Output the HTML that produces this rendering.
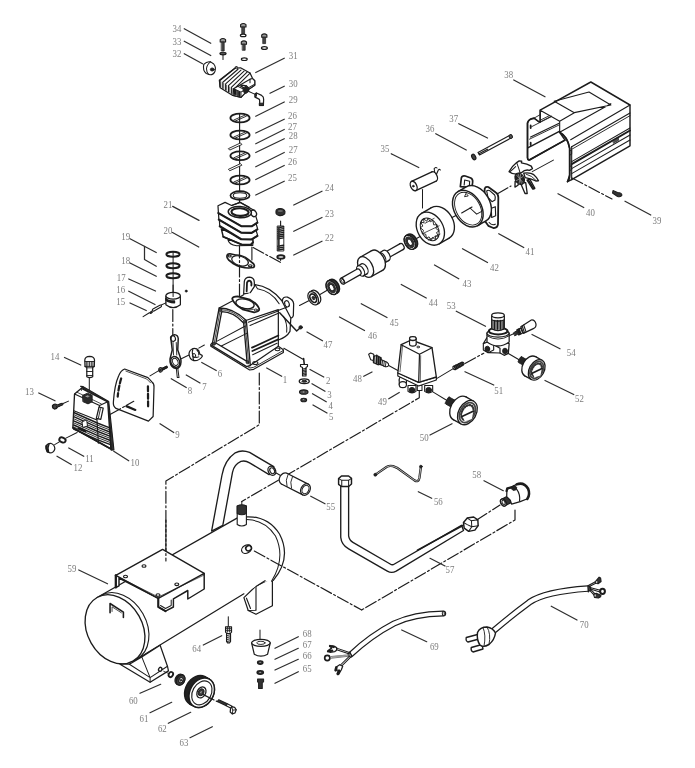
<!DOCTYPE html>
<html><head><meta charset="utf-8"><title>Parts diagram</title>
<style>
html,body{margin:0;padding:0;background:#fff;}
body{width:695px;height:768px;overflow:hidden;}
svg{display:block;filter:blur(0.35px);}
svg text{font-family:"Liberation Serif","DejaVu Serif",serif;font-size:10.4px;fill:#7c7c7c;}
</style></head><body>
<svg width="695" height="768" viewBox="0 0 695 768" stroke-linecap="round" stroke-linejoin="round">
<rect width="695" height="768" fill="#fff"/>
<line x1="239.60" y1="113.50" x2="239.60" y2="199.00" stroke="#1c1c1c" stroke-width="1.12" />
<path d="M240.60000000000002,27.0 L240.60000000000002,24.6 Q243.3,22.400000000000002 246.0,24.6 L246.0,27.0 Z" fill="#999" stroke="#1c1c1c" stroke-width="1.12" />
<rect x="242.0" y="27.0" width="2.6" height="7.499999999999998" fill="#444" stroke="#1c1c1c" stroke-width="0.7"/>
<ellipse cx="243.20" cy="35.40" rx="2.80" ry="1.30" fill="#fff" stroke="#1c1c1c" stroke-width="1.23"/>
<path d="M220.20000000000002,42.0 L220.20000000000002,39.6 Q222.9,37.4 225.6,39.6 L225.6,42.0 Z" fill="#999" stroke="#1c1c1c" stroke-width="1.12" />
<rect x="221.6" y="42.0" width="2.6" height="8.999999999999998" fill="#444" stroke="#1c1c1c" stroke-width="0.7"/>
<ellipse cx="223.00" cy="53.60" rx="3.10" ry="1.30" fill="#555" stroke="#1c1c1c" stroke-width="1.12"/>
<line x1="223.00" y1="55.00" x2="223.00" y2="59.50" stroke="#1c1c1c" stroke-width="1.01" />
<path d="M241.3,44.2 L241.3,42 Q243.9,39.8 246.5,42 L246.5,44.2 Z" fill="#999" stroke="#1c1c1c" stroke-width="1.12" />
<rect x="242.6" y="44.2" width="2.6" height="6.099999999999997" fill="#444" stroke="#1c1c1c" stroke-width="0.7"/>
<ellipse cx="244.30" cy="59.20" rx="2.90" ry="1.30" fill="none" stroke="#1c1c1c" stroke-width="1.23"/>
<path d="M261.7,37.2 L261.7,35 Q264.3,32.8 266.90000000000003,35 L266.90000000000003,37.2 Z" fill="#999" stroke="#1c1c1c" stroke-width="1.12" />
<rect x="263.0" y="37.2" width="2.6" height="6.400000000000001" fill="#444" stroke="#1c1c1c" stroke-width="0.7"/>
<ellipse cx="264.40" cy="48.00" rx="2.90" ry="1.40" fill="#fff" stroke="#1c1c1c" stroke-width="1.34"/>
<path d="M 203.75 64.38 Q 206.88 61.00 210.62 61.88 L 213.75 64.00 Q 216.25 66.88 215.00 71.25 Q 213.75 74.75 210.00 74.75 L 206.25 73.50 Q 202.50 70.62 203.75 64.38 Z" fill="#fff" stroke="#1c1c1c" stroke-width="1.12" />
<path d="M 210.62 61.88 Q 206.88 64.38 206.50 68.75 Q 206.50 71.88 208.50 74.38" fill="none" stroke="#1c1c1c" stroke-width="1.01" />
<ellipse cx="212.25" cy="69.50" rx="1.90" ry="1.50" fill="#222" stroke="#1c1c1c" stroke-width="0.90"/>
<path d="M 219.34 80.29 L 234.88 68.20 L 240.50 67.77 L 250.00 72.95 L 252.59 78.57 L 254.75 80.73 L 254.75 85.22 L 249.13 88.93 L 240.93 97.31 L 232.73 95.41 L 220.20 87.81 Z" fill="#fff" stroke="#1c1c1c" stroke-width="1.23" />
<path d="M 219.94 86.60 L 219.94 80.55 L 234.97 68.29" fill="none" stroke="#1c1c1c" stroke-width="1.12" />
<path d="M 222.79 88.28 L 222.79 82.24 L 237.99 69.24" fill="none" stroke="#1c1c1c" stroke-width="1.12" />
<path d="M 225.64 89.97 L 225.64 83.92 L 241.02 70.19" fill="none" stroke="#1c1c1c" stroke-width="1.12" />
<path d="M 228.49 91.65 L 228.49 85.60 L 244.04 71.14" fill="none" stroke="#1c1c1c" stroke-width="1.12" />
<path d="M 231.34 93.33 L 231.34 87.29 L 247.06 72.09" fill="none" stroke="#1c1c1c" stroke-width="1.12" />
<path d="M 234.19 95.02 L 234.19 88.97 L 250.08 73.04" fill="none" stroke="#1c1c1c" stroke-width="1.12" />
<path d="M 220.89 87.03 L 220.89 81.85" fill="none" stroke="#1c1c1c" stroke-width="0.56" />
<path d="M 223.74 88.71 L 223.74 83.53" fill="none" stroke="#1c1c1c" stroke-width="0.56" />
<path d="M 226.59 90.40 L 226.59 85.22" fill="none" stroke="#1c1c1c" stroke-width="0.56" />
<path d="M 229.44 92.08 L 229.44 86.90" fill="none" stroke="#1c1c1c" stroke-width="0.56" />
<path d="M 232.29 93.77 L 232.29 88.58" fill="none" stroke="#1c1c1c" stroke-width="0.56" />
<path d="M 235.32 68.46 L 235.32 66.91 L 237.04 66.56 L 237.04 68.64" fill="#fff" stroke="#1c1c1c" stroke-width="1.01" />
<path d="M 233.59 88.67 L 250.00 79.17 L 252.59 78.57 L 254.75 80.73 L 254.75 85.22 L 249.13 88.93 L 240.93 97.31 L 233.16 95.41 Z" fill="#fff" stroke="#1c1c1c" stroke-width="1.12" />
<path d="M 233.59 88.67 L 240.93 92.12 L 240.93 97.31 M 240.93 92.12 L 254.75 84.18 M 237.91 86.34 L 244.82 89.79 M 250.00 79.17 L 250.00 82.63" fill="none" stroke="#1c1c1c" stroke-width="1.01" />
<path d="M 234.63 89.79 L 234.63 94.37 M 236.01 90.40 L 236.01 94.89 M 237.91 91.26 L 237.91 95.58 M 239.46 91.95 L 239.46 96.27" fill="none" stroke="#1c1c1c" stroke-width="1.46" />
<path d="M 243.52 87.63 L 246.54 85.91 L 248.70 87.46 L 248.70 91.52 L 245.85 93.51 L 243.52 91.95 Z" fill="#222" stroke="#1c1c1c" stroke-width="0.90" />
<path d="M 240.50 85.91 L 243.52 87.63 M 241.79 85.04 L 246.54 85.91" fill="none" stroke="#1c1c1c" stroke-width="1.34" />
<path d="M 248.96 91.52 L 255.18 94.37" fill="none" stroke="#1c1c1c" stroke-width="1.01" />
<path d="M 255.18 93.85 L 256.47 92.99 L 261.65 95.41 Q 263.81 96.70 263.64 99.29 L 263.38 105.34 L 259.67 105.34 L 259.67 100.59 Q 259.67 99.29 258.63 98.86 L 255.01 97.13 Z" fill="#fff" stroke="#1c1c1c" stroke-width="1.23" />
<path d="M 255.01 94.11 L 255.01 97.13 L 256.47 96.27 L 256.47 93.25 Z" fill="#333" stroke="#1c1c1c" stroke-width="0.90" />
<path d="M 259.67 103.18 L 263.38 103.18 L 263.38 105.60 L 259.67 105.60 Z" fill="#333" stroke="#1c1c1c" stroke-width="0.90" />
<ellipse cx="240.00" cy="118.00" rx="9.60" ry="4.40" fill="#fff" stroke="#1c1c1c" stroke-width="1.79"/>
<path d="M233.8,120.0 L244.8,115.2 M235.4,121.0 L246.4,116.2" fill="none" stroke="#1c1c1c" stroke-width="0.90" />
<line x1="239.60" y1="113.50" x2="239.60" y2="122.50" stroke="#1c1c1c" stroke-width="1.12" />
<ellipse cx="240.00" cy="135.00" rx="9.60" ry="4.40" fill="#fff" stroke="#1c1c1c" stroke-width="1.79"/>
<path d="M233.8,137.0 L244.8,132.2 M235.4,138.0 L246.4,133.2" fill="none" stroke="#1c1c1c" stroke-width="0.90" />
<line x1="239.60" y1="130.50" x2="239.60" y2="139.50" stroke="#1c1c1c" stroke-width="1.12" />
<path d="M228.70000000000002,148.5 L240.5,142.9 L241.9,144.5 L230.10000000000002,149.9 Z" fill="#fff" stroke="#1c1c1c" stroke-width="0.90" />
<ellipse cx="240.00" cy="155.80" rx="9.60" ry="4.40" fill="#fff" stroke="#1c1c1c" stroke-width="1.79"/>
<path d="M233.8,157.8 L244.8,153.0 M235.4,158.8 L246.4,154.0" fill="none" stroke="#1c1c1c" stroke-width="0.90" />
<line x1="239.60" y1="151.30" x2="239.60" y2="160.30" stroke="#1c1c1c" stroke-width="1.12" />
<path d="M228.70000000000002,169.2 L240.5,163.6 L241.9,165.2 L230.10000000000002,170.6 Z" fill="#fff" stroke="#1c1c1c" stroke-width="0.90" />
<ellipse cx="240.00" cy="180.00" rx="9.60" ry="4.40" fill="#fff" stroke="#1c1c1c" stroke-width="1.79"/>
<path d="M233.8,182.0 L244.8,177.2 M235.4,183.0 L246.4,178.2" fill="none" stroke="#1c1c1c" stroke-width="0.90" />
<line x1="239.60" y1="175.50" x2="239.60" y2="184.50" stroke="#1c1c1c" stroke-width="1.12" />
<ellipse cx="240.00" cy="195.50" rx="9.60" ry="4.30" fill="#fff" stroke="#1c1c1c" stroke-width="1.68"/>
<ellipse cx="240.00" cy="195.50" rx="6.80" ry="2.70" fill="none" stroke="#1c1c1c" stroke-width="1.01"/>
<path d="M239.50,199.00 L239.50,212.00" fill="none" stroke="#1c1c1c" stroke-width="1.18" stroke-dasharray="12 2.5 2 2.5"/>
<path d="M 228.08 240.13 Q 228.83 244.62 236.68 245.74 L 252.76 245.36 L 252.99 240.88 Z" fill="#fff" stroke="#1c1c1c" stroke-width="1.12" />
<path d="M 221.35 228.91 L 223.22 236.76 L 241.92 244.62 L 250.89 244.62 L 252.99 242.37 L 252.76 239.01 L 241.92 237.88 Z" fill="#fff" stroke="#1c1c1c" stroke-width="1.46" />
<path d="M 223.22 236.76 L 241.92 244.62 L 250.89 244.62 L 252.99 242.37" fill="none" stroke="#1c1c1c" stroke-width="1.79" />
<path d="M 219.33 218.89 L 226.44 215.52 L 231.60 218.66 L 240.05 215.52 L 253.88 223.37 L 257.40 234.59 L 257.40 235.87 L 251.64 239.46 L 241.17 239.23 L 219.78 226.22 Z" fill="#fff" stroke="#1c1c1c" stroke-width="1.23" />
<path d="M 219.78 226.22 L 241.17 239.23 L 251.64 239.46 L 257.40 235.87" fill="none" stroke="#1c1c1c" stroke-width="2.13" />
<path d="M 218.43 212.31 L 225.54 208.94 L 231.60 212.08 L 240.05 208.94 L 253.88 216.79 L 257.40 228.01 L 257.40 229.28 L 251.64 232.87 L 241.17 232.65 L 218.88 219.64 Z" fill="#fff" stroke="#1c1c1c" stroke-width="1.23" />
<path d="M 218.88 219.64 L 241.17 232.65 L 251.64 232.87 L 257.40 229.28" fill="none" stroke="#1c1c1c" stroke-width="2.13" />
<path d="M 217.98 205.72 L 225.09 202.36 L 231.60 205.50 L 240.05 202.36 L 253.88 210.21 L 257.40 221.43 L 257.40 222.70 L 251.64 226.29 L 241.17 226.07 L 218.43 213.05 Z" fill="#fff" stroke="#1c1c1c" stroke-width="1.23" />
<path d="M 218.43 213.05 L 241.17 226.07 L 251.64 226.29 L 257.40 222.70" fill="none" stroke="#1c1c1c" stroke-width="2.13" />
<ellipse cx="253.59" cy="213.35" rx="2.70" ry="3.40" fill="#fff" stroke="#1c1c1c" stroke-width="1.34" transform="rotate(-30 253.59 213.35)"/>
<ellipse cx="239.82" cy="212.08" rx="11.60" ry="5.60" fill="#fff" stroke="#1c1c1c" stroke-width="1.46" transform="rotate(3 239.82 212.08)"/>
<ellipse cx="240.05" cy="212.08" rx="8.60" ry="3.80" fill="#fff" stroke="#1c1c1c" stroke-width="2.13" transform="rotate(3 240.05 212.08)"/>
<path d="M 231.60 205.50 L 240.05 202.36 L 249.40 207.22" fill="none" stroke="#1c1c1c" stroke-width="1.12" />
<line x1="251.90" y1="247.00" x2="251.90" y2="260.00" stroke="#1c1c1c" stroke-width="1.12" />
<path d="M 226.88 256.00 Q 227.25 253.50 230.00 253.75 L 235.62 255.00 Q 242.50 254.75 248.12 259.38 L 253.50 263.75 Q 255.25 266.25 253.50 267.50 L 248.75 268.00 Q 241.25 268.12 233.50 263.75 L 228.75 260.00 Q 226.62 258.12 226.88 256.00 Z" fill="#fff" stroke="#1c1c1c" stroke-width="1.68" />
<ellipse cx="240.00" cy="260.88" rx="8.60" ry="4.60" fill="#fff" stroke="#1c1c1c" stroke-width="1.23" transform="rotate(18 240.00 260.88)"/>
<ellipse cx="250.25" cy="265.75" rx="1.90" ry="1.00" fill="none" stroke="#1c1c1c" stroke-width="1.01"/>
<ellipse cx="229.62" cy="256.00" rx="1.70" ry="1.00" fill="none" stroke="#1c1c1c" stroke-width="1.01"/>
<path d="M239.50,246.00 L239.50,300.00" fill="none" stroke="#1c1c1c" stroke-width="1.18" stroke-dasharray="12 2.5 2 2.5"/>
<path d="M 276.00 211.00 Q 276.25 208.75 280.00 208.50 Q 284.38 208.75 285.00 211.50 L 284.75 213.75 Q 282.50 216.00 279.75 215.62 Q 276.50 215.00 276.00 213.12 Z" fill="#333" stroke="#1c1c1c" stroke-width="1.12" />
<ellipse cx="280.50" cy="211.00" rx="3.20" ry="1.60" fill="#666" stroke="#1c1c1c" stroke-width="0.67"/>
<line x1="280.60" y1="221.00" x2="280.60" y2="226.00" stroke="#1c1c1c" stroke-width="1.12" />
<rect x="277.6" y="226" width="6.2" height="25" fill="#fff" stroke="#1c1c1c" stroke-width="0.9"/>
<line x1="277.90" y1="227.80" x2="283.50" y2="226.80" stroke="#1c1c1c" stroke-width="1.40" />
<line x1="277.90" y1="229.65" x2="283.50" y2="228.65" stroke="#1c1c1c" stroke-width="1.40" />
<line x1="277.90" y1="231.50" x2="283.50" y2="230.50" stroke="#1c1c1c" stroke-width="1.40" />
<line x1="277.90" y1="233.35" x2="283.50" y2="232.35" stroke="#1c1c1c" stroke-width="1.40" />
<line x1="277.90" y1="235.20" x2="283.50" y2="234.20" stroke="#1c1c1c" stroke-width="1.40" />
<line x1="277.90" y1="237.05" x2="283.50" y2="236.05" stroke="#1c1c1c" stroke-width="1.40" />
<line x1="277.90" y1="238.90" x2="283.50" y2="237.90" stroke="#1c1c1c" stroke-width="1.40" />
<line x1="277.90" y1="246.30" x2="283.50" y2="245.30" stroke="#1c1c1c" stroke-width="1.40" />
<line x1="277.90" y1="248.15" x2="283.50" y2="247.15" stroke="#1c1c1c" stroke-width="1.40" />
<line x1="277.90" y1="250.00" x2="283.50" y2="249.00" stroke="#1c1c1c" stroke-width="1.40" />
<rect x="277.9" y="226.5" width="1.8" height="24" fill="#333"/>
<ellipse cx="280.90" cy="256.90" rx="3.60" ry="1.70" fill="#fff" stroke="#1c1c1c" stroke-width="1.90"/>
<path d="M253.10,247.50 L280.60,262.50 L280.60,258.90" fill="none" stroke="#1c1c1c" stroke-width="1.18" stroke-dasharray="12 2.5 2 2.5"/>
<ellipse cx="173.00" cy="254.30" rx="6.60" ry="2.50" fill="#fff" stroke="#1c1c1c" stroke-width="2.02"/>
<ellipse cx="173.00" cy="265.70" rx="6.60" ry="2.50" fill="#fff" stroke="#1c1c1c" stroke-width="2.02"/>
<ellipse cx="173.00" cy="275.80" rx="6.60" ry="2.50" fill="#fff" stroke="#1c1c1c" stroke-width="2.02"/>
<line x1="173.10" y1="252.00" x2="173.10" y2="294.00" stroke="#1c1c1c" stroke-width="1.01" />
<ellipse cx="186.20" cy="291.10" rx="1.10" ry="1.10" fill="#111" stroke="#1c1c1c" stroke-width="0.56"/>
<path d="M 165.88 296.00 L 165.88 304.75 Q 173.12 310.62 180.38 304.75 L 180.38 296.00 Z" fill="#fff" stroke="#1c1c1c" stroke-width="1.23" />
<ellipse cx="173.12" cy="295.75" rx="7.25" ry="3.40" fill="#fff" stroke="#1c1c1c" stroke-width="1.23"/>
<path d="M 166.00 298.75 Q 168.12 301.25 174.38 301.25 M 166.00 300.00 Q 168.12 302.50 174.38 302.50" fill="none" stroke="#1c1c1c" stroke-width="1.79" />
<line x1="173.10" y1="285.00" x2="173.10" y2="296.50" stroke="#1c1c1c" stroke-width="1.01" />
<path d="M 161.25 305.00 L 165.88 302.88" fill="none" stroke="#1c1c1c" stroke-width="1.01" />
<path d="M 153.50 310.00 L 160.38 306.12" fill="none" stroke="#1c1c1c" stroke-width="3.25" />
<path d="M 153.50 310.00 L 160.38 306.12" fill="none" stroke="#fff" stroke-width="1.12" />
<path d="M 143.12 316.62 L 149.38 312.75" fill="none" stroke="#1c1c1c" stroke-width="1.12" />
<path d="M 149.75 312.75 L 151.50 311.00 L 152.50 312.00 L 150.75 313.50 Z" fill="#333" stroke="#1c1c1c" stroke-width="1.01" />
<path d="M172.80,309.50 L172.80,335.00" fill="none" stroke="#1c1c1c" stroke-width="1.18" stroke-dasharray="12 2.5 2 2.5"/>
<path d="M 177.50 366.25 L 179.00 377.50 L 177.25 377.50 L 176.25 367.50 Z" fill="#fff" stroke="#1c1c1c" stroke-width="1.01" />
<path d="M 170.88 338.75 Q 171.25 335.00 174.50 334.62 Q 177.88 335.00 178.25 338.50 L 177.75 350.00 L 180.25 357.25 Q 182.00 362.50 179.75 366.50 Q 177.50 369.50 173.75 367.75 Q 169.50 365.25 170.00 359.00 L 172.25 350.00 Z" fill="#fff" stroke="#1c1c1c" stroke-width="1.46" />
<ellipse cx="173.00" cy="338.50" rx="2.40" ry="2.90" fill="none" stroke="#1c1c1c" stroke-width="1.12" transform="rotate(-20 173.00 338.50)"/>
<path d="M 173.00 342.50 L 173.50 355.00 M 176.25 342.50 L 176.75 355.00" fill="none" stroke="#1c1c1c" stroke-width="0.90" />
<ellipse cx="175.25" cy="361.88" rx="4.30" ry="5.60" fill="#fff" stroke="#1c1c1c" stroke-width="1.46" transform="rotate(-25 175.25 361.88)"/>
<ellipse cx="175.25" cy="361.88" rx="2.60" ry="3.70" fill="none" stroke="#1c1c1c" stroke-width="0.90" transform="rotate(-25 175.25 361.88)"/>
<path d="M 181.25 358.75 L 189.00 355.00 M 198.75 348.12 L 204.38 345.00" fill="none" stroke="#1c1c1c" stroke-width="1.01" />
<path d="M 189.00 353.75 Q 189.38 350.00 193.12 348.50 Q 196.88 348.12 198.75 350.62 L 200.00 354.38 Q 202.50 355.00 202.25 356.50 Q 198.75 361.25 193.75 360.62 Q 189.38 359.38 189.00 353.75 Z" fill="#fff" stroke="#1c1c1c" stroke-width="1.23" />
<path d="M 193.12 348.50 Q 191.25 352.50 193.12 356.25 Q 195.00 358.12 198.75 356.88 M 196.88 350.00 Q 199.38 351.88 198.75 355.00 M 193.12 356.25 Q 192.50 358.75 194.00 360.50" fill="none" stroke="#1c1c1c" stroke-width="1.01" />
<ellipse cx="194.00" cy="355.62" rx="1.60" ry="2.20" fill="none" stroke="#1c1c1c" stroke-width="0.90"/>
<path d="M 158.75 369.00 Q 159.38 367.50 161.25 367.75 L 162.00 368.50 L 166.75 366.25 L 167.25 367.50 L 162.50 370.00 Q 162.25 371.88 160.62 372.25 Q 158.75 371.88 158.75 369.00 Z" fill="#fff" stroke="#1c1c1c" stroke-width="1.23" />
<path d="M 162.00 368.50 L 166.75 366.25 L 167.25 367.50 L 162.50 370.00 Z" fill="#333" stroke="#1c1c1c" stroke-width="1.01" />
<ellipse cx="160.38" cy="370.00" rx="1.00" ry="1.30" fill="#333" stroke="#1c1c1c" stroke-width="0.67"/>
<path d="M 150.00 375.88 L 158.75 370.62" fill="none" stroke="#1c1c1c" stroke-width="1.01" />
<path d="M 282.50 299.67 Q 283.33 296.33 287.50 297.17 Q 293.33 299.67 293.67 303.83 L 293.33 315.50 Q 292.50 318.83 289.17 317.67 L 285.83 315.50 L 282.50 308.00 Z" fill="#fff" stroke="#1c1c1c" stroke-width="1.23" />
<ellipse cx="287.00" cy="303.83" rx="2.20" ry="3.20" fill="none" stroke="#1c1c1c" stroke-width="1.12" transform="rotate(-20 287.00 303.83)"/>
<path d="M 250.00 293.00 L 255.00 284.67 Q 270.00 286.33 281.67 300.50 L 290.83 318.00 L 290.00 331.33 Q 286.67 337.17 278.33 340.00 L 278.33 309.67 Z" fill="#fff" stroke="none" stroke-width="0.00" />
<path d="M 250.00 293.00 L 255.00 284.67 Q 270.00 286.33 281.67 300.50 L 290.83 318.00 L 290.00 331.33 Q 286.67 337.17 278.33 340.00" fill="none" stroke="#1c1c1c" stroke-width="1.23" />
<path d="M 257.50 288.83 Q 271.67 291.33 279.17 303.83 M 255.00 284.67 L 257.50 288.83 M 283.33 316.33 Q 287.50 323.00 286.67 332.17" fill="none" stroke="#1c1c1c" stroke-width="1.01" />
<path d="M 243.67 293.83 L 244.33 281.33 Q 245.00 277.17 249.67 277.17 Q 254.17 277.67 254.33 282.17 L 254.33 286.67 L 250.00 293.00 Z" fill="#fff" stroke="#1c1c1c" stroke-width="1.23" />
<path d="M 246.67 291.33 L 247.00 282.67 Q 248.33 280.00 250.33 281.00 Q 252.00 282.33 251.33 285.50" fill="none" stroke="#1c1c1c" stroke-width="1.79" />
<path d="M 219.17 308.00 L 234.17 300.00 L 250.00 293.00 L 278.33 309.67 L 278.33 346.33 L 250.00 365.50 L 245.83 320.50 Z" fill="#fff" stroke="none" stroke-width="0.00" />
<path d="M 219.17 308.00 L 234.17 300.00 L 243.67 294.67 M 245.83 320.50 L 278.33 309.67 L 278.33 346.33" fill="none" stroke="#1c1c1c" stroke-width="1.23" />
<path d="M 248.33 322.17 L 278.33 311.00 M 250.00 325.50 L 278.33 313.33" fill="none" stroke="#1c1c1c" stroke-width="1.01" />
<path d="M 252.00 347.67 L 278.33 335.50 M 252.33 351.00 L 278.33 339.33" fill="none" stroke="#1c1c1c" stroke-width="1.79" />
<path d="M 252.67 354.67 L 277.00 343.33" fill="none" stroke="#1c1c1c" stroke-width="1.01" />
<path d="M 210.83 344.33 L 212.50 342.67 L 250.00 365.50 L 278.33 346.33 L 283.33 349.67 L 283.33 352.50 L 253.67 369.33 L 249.67 370.00 L 210.83 346.33 Z" fill="#fff" stroke="#1c1c1c" stroke-width="1.23" />
<path d="M 210.83 345.17 L 250.00 368.00 L 253.67 367.33 L 283.33 350.50" fill="none" stroke="#1c1c1c" stroke-width="0.90" />
<ellipse cx="277.50" cy="349.33" rx="2.40" ry="1.40" fill="none" stroke="#1c1c1c" stroke-width="1.01"/>
<ellipse cx="255.33" cy="363.00" rx="2.60" ry="1.50" fill="none" stroke="#1c1c1c" stroke-width="1.01"/>
<path d="M 219.17 308.00 Q 233.33 308.00 246.33 320.50 L 250.33 365.50 L 246.67 366.67 L 212.00 345.50 Z" fill="#fff" stroke="#1c1c1c" stroke-width="1.34" />
<path d="M 221.67 311.67 Q 233.33 311.67 243.67 323.00 L 247.00 361.33 L 215.83 343.00 Z" fill="#fff" stroke="#1c1c1c" stroke-width="1.34" />
<path d="M 220.33 309.67 Q 233.33 309.67 245.00 321.67 L 248.67 363.83" fill="none" stroke="#1c1c1c" stroke-width="0.78" />
<path d="M 220.33 309.67 L 214.00 344.33" fill="none" stroke="#1c1c1c" stroke-width="0.78" />
<path d="M 216.67 341.33 L 245.33 326.00 M 221.33 346.00 L 246.67 333.33" fill="none" stroke="#1c1c1c" stroke-width="1.01" />
<ellipse cx="220.33" cy="310.00" rx="1.50" ry="1.50" fill="#444" stroke="#1c1c1c" stroke-width="0.67"/>
<ellipse cx="244.67" cy="321.67" rx="1.50" ry="1.50" fill="#444" stroke="#1c1c1c" stroke-width="0.67"/>
<ellipse cx="214.00" cy="343.83" rx="1.50" ry="1.50" fill="#444" stroke="#1c1c1c" stroke-width="0.67"/>
<ellipse cx="247.50" cy="362.17" rx="1.50" ry="1.50" fill="#444" stroke="#1c1c1c" stroke-width="0.67"/>
<path d="M 232.17 298.83 Q 232.67 296.33 237.50 296.33 L 250.00 299.67 Q 257.50 303.83 259.17 308.83 Q 259.67 311.67 254.17 312.33 L 242.50 309.33 Q 234.17 304.67 232.17 298.83 Z" fill="#fff" stroke="#1c1c1c" stroke-width="1.79" />
<ellipse cx="245.00" cy="303.83" rx="9.30" ry="4.70" fill="#fff" stroke="#1c1c1c" stroke-width="1.34" transform="rotate(12 245.00 303.83)"/>
<path d="M 236.67 305.00 Q 242.50 309.67 253.33 309.33" fill="none" stroke="#1c1c1c" stroke-width="0.90" />
<ellipse cx="255.83" cy="310.00" rx="1.60" ry="1.00" fill="none" stroke="#1c1c1c" stroke-width="0.90"/>
<path d="M 278.00 310.50 L 286.67 307.17" fill="none" stroke="#1c1c1c" stroke-width="1.01" />
<path d="M 279.67 312.67 L 296.67 331.00 L 300.00 328.00" fill="none" stroke="#1c1c1c" stroke-width="1.46" />
<ellipse cx="300.67" cy="327.33" rx="1.70" ry="1.70" fill="#222" stroke="#1c1c1c" stroke-width="0.90"/>
<path d="M259.30,373.00 L259.30,424.70 L165.90,481.00 L165.90,561.00" fill="none" stroke="#1c1c1c" stroke-width="1.18" stroke-dasharray="12 2.5 2 2.5"/>
<line x1="283.80" y1="348.20" x2="303.40" y2="359.50" stroke="#1c1c1c" stroke-width="1.01" />
<line x1="303.60" y1="358.50" x2="304.30" y2="364.50" stroke="#1c1c1c" stroke-width="1.57" />
<path d="M 300.50 364.50 L 307.50 364.50 L 307.50 366.50 L 306.00 367.50 L 306.00 376.00 L 302.50 376.00 L 302.50 367.50 L 300.50 366.50 Z" fill="#fff" stroke="#1c1c1c" stroke-width="1.12" />
<path d="M 302.50 369.00 L 306.00 368.50 M 302.50 370.50 L 306.00 370.00 M 302.50 372.00 L 306.00 371.50 M 302.50 373.50 L 306.00 373.00 M 302.50 375.00 L 306.00 374.50" fill="none" stroke="#1c1c1c" stroke-width="1.01" />
<ellipse cx="304.25" cy="381.25" rx="5.00" ry="2.30" fill="#fff" stroke="#1c1c1c" stroke-width="1.34"/>
<ellipse cx="304.25" cy="381.25" rx="2.40" ry="1.00" fill="#333" stroke="#1c1c1c" stroke-width="0.90"/>
<ellipse cx="303.75" cy="392.00" rx="4.20" ry="2.20" fill="#555" stroke="#1c1c1c" stroke-width="1.23"/>
<ellipse cx="303.75" cy="392.00" rx="1.80" ry="0.80" fill="#fff" stroke="#1c1c1c" stroke-width="0.67"/>
<ellipse cx="303.75" cy="400.00" rx="2.90" ry="1.80" fill="#444" stroke="#1c1c1c" stroke-width="1.12"/>
<ellipse cx="303.75" cy="399.60" rx="1.40" ry="0.70" fill="#ccc" stroke="#1c1c1c" stroke-width="0.56"/>
<path d="M 124.63 369.00 L 147.94 377.63 L 151.92 381.95 Q 154.34 383.68 153.99 387.13 L 153.13 416.49 L 148.46 421.16 L 115.99 408.38 Q 112.88 406.13 113.40 401.81 Q 114.61 384.54 118.58 375.91 Q 120.83 370.38 124.63 369.00 Z" fill="#fff" stroke="#1c1c1c" stroke-width="1.23" />
<path d="M 125.84 371.07 L 146.74 379.02 L 150.54 382.82" fill="none" stroke="#1c1c1c" stroke-width="0.78" />
<path d="M 121.17 378.50 Q 118.58 387.13 117.72 396.63" fill="none" stroke="#1c1c1c" stroke-width="2.24" stroke-dasharray="5 2.5"/>
<path d="M 147.94 386.27 L 148.12 406.99" fill="none" stroke="#1c1c1c" stroke-width="2.24" stroke-dasharray="5 2.5"/>
<path d="M 126.36 406.13 L 135.34 409.93" fill="none" stroke="#1c1c1c" stroke-width="2.24" />
<path d="M110.00,414.50 L133.75,401.25" fill="none" stroke="#1c1c1c" stroke-width="1.18" stroke-dasharray="12 2.5 2 2.5"/>
<line x1="89.30" y1="377.00" x2="89.30" y2="396.00" stroke="#1c1c1c" stroke-width="1.01" />
<path d="M84.8,360 Q85,356.6 89.6,356.4 Q94.3,356.6 94.5,360 L94.3,366.4 L92.7,367.6 L92.7,376.8 Q89.7,378.6 86.8,376.8 L86.8,367.6 L85,366.4 Z" fill="#fff" stroke="#1c1c1c" stroke-width="1.23" />
<path d="M85,361.5 L94.4,361.5 M85,366.4 L94.3,366.4 M86.8,367.8 L92.7,367.8 M86.8,371.5 L92.7,371.5 M86.8,375.5 L92.7,375.5" fill="none" stroke="#1c1c1c" stroke-width="0.90" />
<path d="M86.3,361.5 L86.3,366.4 M87.9,361.5 L87.9,366.4 M89.6,361.5 L89.6,366.4 M91.3,361.5 L91.3,366.4 M92.9,361.5 L92.9,366.4" fill="none" stroke="#1c1c1c" stroke-width="0.90" />
<path d="M 52.44 405.61 Q 53.47 403.89 55.89 404.23 L 57.27 404.92 L 62.11 403.20 L 62.80 404.58 L 57.62 406.99 Q 56.93 409.07 54.51 409.07 Q 52.09 408.38 52.44 405.61 Z" fill="#fff" stroke="#1c1c1c" stroke-width="1.12" />
<path d="M 58.31 404.58 L 59.00 406.30 M 59.69 404.06 L 60.38 405.79 M 61.07 403.54 L 61.76 405.27" fill="none" stroke="#1c1c1c" stroke-width="0.78" />
<path d="M 63.14 403.54 L 68.50 401.12" fill="none" stroke="#1c1c1c" stroke-width="1.01" />
<ellipse cx="54.85" cy="406.65" rx="1.90" ry="2.10" fill="#444" stroke="#1c1c1c" stroke-width="0.90"/>
<path d="M 57.62 405.27 L 62.11 403.37 L 62.80 404.58 L 57.96 406.65 Z" fill="#444" stroke="#1c1c1c" stroke-width="0.78" />
<path d="M 80.59 386.27 L 83.18 386.61 L 108.74 401.47 L 113.92 449.83 L 111.16 450.17 L 108.22 406.99 Z" fill="#333" stroke="#1c1c1c" stroke-width="1.12" />
<path d="M 74.54 394.04 L 81.45 388.34 L 107.70 401.81 L 110.81 448.79 L 72.82 428.07 Z" fill="#fff" stroke="#1c1c1c" stroke-width="1.34" />
<path d="M 74.54 394.04 L 99.59 405.61 L 107.70 401.81 M 99.59 405.61 L 96.99 419.95 L 73.85 410.79 M 96.99 419.95 L 98.38 443.26" fill="none" stroke="#1c1c1c" stroke-width="1.12" />
<path d="M 81.45 388.34 L 81.45 390.59 M 77.13 392.31 L 101.31 403.89" fill="none" stroke="#1c1c1c" stroke-width="0.78" />
<path d="M 73.68 412.52 L 97.86 423.23 L 110.47 428.07" fill="none" stroke="#1c1c1c" stroke-width="1.46" />
<path d="M 73.68 414.59 L 97.86 425.30 L 110.47 430.14" fill="none" stroke="#1c1c1c" stroke-width="0.90" />
<path d="M 73.68 416.67 L 97.86 427.37 L 110.47 432.21" fill="none" stroke="#1c1c1c" stroke-width="1.46" />
<path d="M 73.68 418.74 L 97.86 429.45 L 110.47 434.28" fill="none" stroke="#1c1c1c" stroke-width="0.90" />
<path d="M 73.68 420.81 L 97.86 431.52 L 110.47 436.36" fill="none" stroke="#1c1c1c" stroke-width="1.46" />
<path d="M 73.68 422.88 L 97.86 433.59 L 110.47 438.43" fill="none" stroke="#1c1c1c" stroke-width="0.90" />
<path d="M 73.68 424.96 L 97.86 435.66 L 110.47 440.50" fill="none" stroke="#1c1c1c" stroke-width="1.46" />
<path d="M 73.68 427.03 L 97.86 437.74 L 110.47 442.57" fill="none" stroke="#1c1c1c" stroke-width="0.90" />
<path d="M 73.68 429.10 L 97.86 439.81 L 110.47 444.65" fill="none" stroke="#1c1c1c" stroke-width="1.46" />
<path d="M 73.16 427.72 L 110.47 448.79" fill="none" stroke="#1c1c1c" stroke-width="1.79" />
<path d="M 99.07 406.99 L 103.21 408.03 L 100.79 419.43 L 96.30 418.39 Z" fill="#fff" stroke="#1c1c1c" stroke-width="1.23" />
<path d="M 100.45 408.72 L 98.38 418.22" fill="none" stroke="#1c1c1c" stroke-width="0.90" />
<path d="M 82.83 395.25 L 87.50 393.18 L 92.16 395.25 L 92.16 401.81 L 88.01 403.89 L 83.18 401.81 Z" fill="#2a2a2a" stroke="#1c1c1c" stroke-width="0.90" />
<path d="M 84.56 396.29 L 87.67 394.91 L 90.43 396.29 L 87.67 397.67 Z" fill="#999" stroke="#1c1c1c" stroke-width="0.56" />
<path d="M 82.31 421.68 L 86.63 419.95 L 87.50 425.99 L 83.18 427.37 Z" fill="#fff" stroke="#1c1c1c" stroke-width="0.90" />
<path d="M 78.86 428.58 L 85.25 431.17" fill="none" stroke="#1c1c1c" stroke-width="2.24" />
<path d="M 65.91 438.08 L 77.13 432.56" fill="none" stroke="#1c1c1c" stroke-width="1.01" />
<ellipse cx="62.45" cy="439.98" rx="3.30" ry="2.30" fill="#fff" stroke="#1c1c1c" stroke-width="1.90" transform="rotate(25 62.45 439.98)"/>
<path d="M 54.68 444.65 L 59.34 441.88" fill="none" stroke="#1c1c1c" stroke-width="1.01" />
<path d="M 46.04 446.72 Q 46.91 443.26 50.71 443.26 Q 54.68 444.65 54.85 448.79 Q 53.82 452.76 50.02 452.94 Q 46.22 451.90 46.04 446.72 Z" fill="#fff" stroke="#1c1c1c" stroke-width="1.23" />
<path d="M 48.98 444.13 Q 47.25 447.58 48.64 452.25" fill="none" stroke="#1c1c1c" stroke-width="1.34" />
<path d="M 46.56 446.03 Q 46.22 448.79 47.60 451.55" fill="none" stroke="#1c1c1c" stroke-width="2.46" />
<line x1="299.50" y1="305.50" x2="308.75" y2="300.75" stroke="#1c1c1c" stroke-width="1.01" />
<line x1="320.00" y1="294.50" x2="326.75" y2="290.50" stroke="#1c1c1c" stroke-width="1.01" />
<ellipse cx="315.45" cy="296.90" rx="4.60" ry="7.20" fill="#fff" stroke="#1c1c1c" stroke-width="1.23" transform="rotate(-30 315.45 296.90)"/>
<path d="M316.80,304.44 L319.05,303.14 L311.85,290.66 L309.60,291.96 Z" fill="#fff" stroke="none"/>
<line x1="316.80" y1="304.44" x2="319.05" y2="303.14" stroke="#1c1c1c" stroke-width="1.23" />
<line x1="309.60" y1="291.96" x2="311.85" y2="290.66" stroke="#1c1c1c" stroke-width="1.23" />
<ellipse cx="313.20" cy="298.20" rx="4.60" ry="7.20" fill="#fff" stroke="#1c1c1c" stroke-width="1.23" transform="rotate(-30 313.20 298.20)"/>
<ellipse cx="313.20" cy="298.20" rx="2.90" ry="4.60" fill="none" stroke="#1c1c1c" stroke-width="1.79" transform="rotate(-30 313.20 298.20)"/>
<ellipse cx="313.40" cy="298.10" rx="1.20" ry="1.90" fill="#333" stroke="#1c1c1c" stroke-width="0.67" transform="rotate(-30 313.40 298.10)"/>
<ellipse cx="334.02" cy="286.20" rx="4.70" ry="7.40" fill="#333" stroke="#1c1c1c" stroke-width="1.57" transform="rotate(-30 334.02 286.20)"/>
<path d="M335.30,294.01 L337.72,292.61 L330.32,279.79 L327.90,281.19 Z" fill="#333" stroke="none"/>
<line x1="335.30" y1="294.01" x2="337.72" y2="292.61" stroke="#1c1c1c" stroke-width="1.57" />
<line x1="327.90" y1="281.19" x2="330.32" y2="279.79" stroke="#1c1c1c" stroke-width="1.57" />
<ellipse cx="331.60" cy="287.60" rx="4.70" ry="7.40" fill="#333" stroke="#1c1c1c" stroke-width="1.57" transform="rotate(-30 331.60 287.60)"/>
<ellipse cx="331.60" cy="287.60" rx="4.70" ry="7.40" fill="#fff" stroke="#1c1c1c" stroke-width="1.34" transform="rotate(-30 331.60 287.60)"/>
<ellipse cx="331.60" cy="287.60" rx="3.40" ry="5.60" fill="#333" stroke="#1c1c1c" stroke-width="0.90" transform="rotate(-30 331.60 287.60)"/>
<ellipse cx="331.60" cy="287.60" rx="2.00" ry="3.40" fill="#fff" stroke="#1c1c1c" stroke-width="0.90" transform="rotate(-30 331.60 287.60)"/>
<ellipse cx="401.80" cy="246.53" rx="2.00" ry="3.30" fill="#fff" stroke="#1c1c1c" stroke-width="1.23" transform="rotate(-29.5 401.80 246.53)"/>
<path d="M388.62,257.77 L403.42,249.40 L400.17,243.66 L385.38,252.03 Z" fill="#fff" stroke="none"/>
<line x1="388.62" y1="257.77" x2="403.42" y2="249.40" stroke="#1c1c1c" stroke-width="1.23" />
<line x1="385.38" y1="252.03" x2="400.17" y2="243.66" stroke="#1c1c1c" stroke-width="1.23" />
<ellipse cx="387.00" cy="254.90" rx="2.00" ry="3.30" fill="#fff" stroke="#1c1c1c" stroke-width="1.23" transform="rotate(-29.5 387.00 254.90)"/>
<ellipse cx="386.15" cy="255.44" rx="3.30" ry="5.70" fill="#fff" stroke="#1c1c1c" stroke-width="1.23" transform="rotate(-29.5 386.15 255.44)"/>
<path d="M384.61,262.86 L388.96,260.40 L383.34,250.48 L378.99,252.94 Z" fill="#fff" stroke="none"/>
<line x1="384.61" y1="262.86" x2="388.96" y2="260.40" stroke="#1c1c1c" stroke-width="1.23" />
<line x1="378.99" y1="252.94" x2="383.34" y2="250.48" stroke="#1c1c1c" stroke-width="1.23" />
<ellipse cx="381.80" cy="257.90" rx="3.30" ry="5.70" fill="#fff" stroke="#1c1c1c" stroke-width="1.23" transform="rotate(-29.5 381.80 257.90)"/>
<ellipse cx="377.35" cy="260.35" rx="6.80" ry="11.20" fill="#fff" stroke="#1c1c1c" stroke-width="1.34" transform="rotate(-29.5 377.35 260.35)"/>
<path d="M371.12,276.75 L382.86,270.10 L371.83,250.60 L360.08,257.25 Z" fill="#fff" stroke="none"/>
<line x1="371.12" y1="276.75" x2="382.86" y2="270.10" stroke="#1c1c1c" stroke-width="1.34" />
<line x1="360.08" y1="257.25" x2="371.83" y2="250.60" stroke="#1c1c1c" stroke-width="1.34" />
<ellipse cx="365.60" cy="267.00" rx="6.80" ry="11.20" fill="#fff" stroke="#1c1c1c" stroke-width="1.34" transform="rotate(-29.5 365.60 267.00)"/>
<ellipse cx="364.08" cy="268.93" rx="3.30" ry="5.70" fill="#fff" stroke="#1c1c1c" stroke-width="1.23" transform="rotate(-29.5 364.08 268.93)"/>
<path d="M363.41,275.86 L366.89,273.89 L361.27,263.97 L357.79,265.94 Z" fill="#fff" stroke="none"/>
<line x1="363.41" y1="275.86" x2="366.89" y2="273.89" stroke="#1c1c1c" stroke-width="1.23" />
<line x1="357.79" y1="265.94" x2="361.27" y2="263.97" stroke="#1c1c1c" stroke-width="1.23" />
<ellipse cx="360.60" cy="270.90" rx="3.30" ry="5.70" fill="#fff" stroke="#1c1c1c" stroke-width="1.23" transform="rotate(-29.5 360.60 270.90)"/>
<ellipse cx="358.84" cy="271.84" rx="1.90" ry="3.20" fill="#fff" stroke="#1c1c1c" stroke-width="1.23" transform="rotate(-29.5 358.84 271.84)"/>
<path d="M343.88,283.99 L360.41,274.63 L357.26,269.06 L340.72,278.41 Z" fill="#fff" stroke="none"/>
<line x1="343.88" y1="283.99" x2="360.41" y2="274.63" stroke="#1c1c1c" stroke-width="1.23" />
<line x1="340.72" y1="278.41" x2="357.26" y2="269.06" stroke="#1c1c1c" stroke-width="1.23" />
<ellipse cx="342.30" cy="281.20" rx="1.90" ry="3.20" fill="#fff" stroke="#1c1c1c" stroke-width="1.23" transform="rotate(-29.5 342.30 281.20)"/>
<ellipse cx="342.80" cy="281.00" rx="1.00" ry="1.90" fill="none" stroke="#1c1c1c" stroke-width="0.78" transform="rotate(-29.5 342.80 281.00)"/>
<line x1="416.50" y1="238.50" x2="421.00" y2="236.00" stroke="#1c1c1c" stroke-width="1.01" />
<ellipse cx="412.05" cy="241.00" rx="4.80" ry="7.60" fill="#333" stroke="#1c1c1c" stroke-width="1.46" transform="rotate(-30 412.05 241.00)"/>
<path d="M413.60,248.88 L415.85,247.58 L408.25,234.42 L406.00,235.72 Z" fill="#333" stroke="none"/>
<line x1="413.60" y1="248.88" x2="415.85" y2="247.58" stroke="#1c1c1c" stroke-width="1.46" />
<line x1="406.00" y1="235.72" x2="408.25" y2="234.42" stroke="#1c1c1c" stroke-width="1.46" />
<ellipse cx="409.80" cy="242.30" rx="4.80" ry="7.60" fill="#333" stroke="#1c1c1c" stroke-width="1.46" transform="rotate(-30 409.80 242.30)"/>
<ellipse cx="409.80" cy="242.30" rx="4.80" ry="7.60" fill="#fff" stroke="#1c1c1c" stroke-width="1.34" transform="rotate(-30 409.80 242.30)"/>
<ellipse cx="409.80" cy="242.30" rx="3.60" ry="5.80" fill="#333" stroke="#1c1c1c" stroke-width="0.90" transform="rotate(-30 409.80 242.30)"/>
<ellipse cx="409.80" cy="242.30" rx="2.00" ry="3.40" fill="#fff" stroke="#1c1c1c" stroke-width="0.90" transform="rotate(-30 409.80 242.30)"/>
<path d="M 433.67 175.33 Q 435.33 171.67 434.17 168.67 Q 435.83 166.67 437.00 168.00 M 435.33 176.33 Q 437.00 173.33 438.33 170.00 Q 439.33 168.67 440.33 170.00" fill="none" stroke="#1c1c1c" stroke-width="1.12" />
<ellipse cx="434.06" cy="176.49" rx="3.00" ry="5.00" fill="#fff" stroke="#1c1c1c" stroke-width="1.34" transform="rotate(-25 434.06 176.49)"/>
<path d="M415.78,190.53 L436.17,181.02 L431.95,171.96 L411.55,181.47 Z" fill="#fff" stroke="none"/>
<line x1="415.78" y1="190.53" x2="436.17" y2="181.02" stroke="#1c1c1c" stroke-width="1.34" />
<line x1="411.55" y1="181.47" x2="431.95" y2="171.96" stroke="#1c1c1c" stroke-width="1.34" />
<ellipse cx="413.67" cy="186.00" rx="3.00" ry="5.00" fill="#fff" stroke="#1c1c1c" stroke-width="1.34" transform="rotate(-25 413.67 186.00)"/>
<ellipse cx="413.33" cy="186.17" rx="0.90" ry="0.90" fill="#222" stroke="#1c1c1c" stroke-width="0.67"/>
<line x1="422.50" y1="189.50" x2="422.50" y2="208.00" stroke="#1c1c1c" stroke-width="1.01" />
<ellipse cx="440.29" cy="222.92" rx="12.80" ry="17.60" fill="#fff" stroke="#1c1c1c" stroke-width="1.34" transform="rotate(-30 440.29 222.92)"/>
<path d="M439.13,243.91 L449.09,238.16 L431.49,207.67 L421.53,213.42 Z" fill="#fff" stroke="none"/>
<line x1="439.13" y1="243.91" x2="449.09" y2="238.16" stroke="#1c1c1c" stroke-width="1.34" />
<line x1="421.53" y1="213.42" x2="431.49" y2="207.67" stroke="#1c1c1c" stroke-width="1.34" />
<ellipse cx="430.33" cy="228.67" rx="12.80" ry="17.60" fill="#fff" stroke="#1c1c1c" stroke-width="1.34" transform="rotate(-30 430.33 228.67)"/>
<ellipse cx="429.67" cy="229.33" rx="8.40" ry="12.20" fill="#fff" stroke="#1c1c1c" stroke-width="1.01" transform="rotate(-30 429.67 229.33)"/>
<path d="M436.94,225.13 L435.86,228.38 L439.02,230.98 L436.48,232.57 L438.59,236.38 L435.26,235.90 L435.77,239.90 L432.55,237.46 L431.31,240.58 L429.07,236.85 L426.42,238.25 L425.74,234.22 L422.39,233.53 L423.47,230.29 L420.32,227.69 L422.86,226.09 L420.75,222.28 L424.07,222.77 L423.57,218.77 L426.78,221.20 L428.02,218.08 L430.26,221.82 L432.92,220.41 L433.59,224.44 Z" fill="none" stroke="#1c1c1c" stroke-width="0.90" />
<path d="M 425.00 223.33 L 434.17 218.33 M 423.33 233.33 L 439.17 225.83 M 428.33 240.00 L 440.00 234.17" fill="none" stroke="#1c1c1c" stroke-width="0.78" />
<line x1="452.00" y1="217.50" x2="458.00" y2="214.50" stroke="#1c1c1c" stroke-width="1.01" />
<path d="M 484.67 188.67 Q 485.33 186.33 488.33 187.00 L 495.83 192.50 Q 498.33 194.17 498.33 197.50 L 498.00 224.17 Q 497.50 228.33 493.33 228.00 L 488.33 225.83 L 484.17 220.00 Z" fill="#fff" stroke="#1c1c1c" stroke-width="1.79" />
<path d="M 486.67 190.83 Q 488.00 189.67 490.00 190.83 L 494.67 195.00 Q 495.83 197.00 495.00 200.00 L 492.00 201.67 L 488.00 197.50 Z" fill="#fff" stroke="#1c1c1c" stroke-width="1.12" />
<path d="M 491.33 208.33 L 495.33 206.67 L 495.67 215.83 L 491.67 217.50 Z M 489.17 222.50 Q 491.67 225.83 495.33 224.17" fill="none" stroke="#1c1c1c" stroke-width="1.12" />
<path d="M 460.33 186.67 L 461.33 178.00 Q 462.00 175.33 465.33 176.00 L 470.83 178.00 Q 473.00 179.17 472.67 182.00 L 472.00 187.50 Z" fill="#fff" stroke="#1c1c1c" stroke-width="1.68" />
<path d="M 464.17 185.00 L 464.67 180.00 L 469.67 181.33 L 469.33 186.33" fill="none" stroke="#1c1c1c" stroke-width="1.12" />
<ellipse cx="476.06" cy="203.92" rx="13.60" ry="19.70" fill="#fff" stroke="#1c1c1c" stroke-width="1.46" transform="rotate(-30 476.06 203.92)"/>
<path d="M477.68,225.73 L485.91,220.98 L466.21,186.86 L457.98,191.61 Z" fill="#fff" stroke="none"/>
<line x1="477.68" y1="225.73" x2="485.91" y2="220.98" stroke="#1c1c1c" stroke-width="1.46" />
<line x1="457.98" y1="191.61" x2="466.21" y2="186.86" stroke="#1c1c1c" stroke-width="1.46" />
<ellipse cx="467.83" cy="208.67" rx="13.60" ry="19.70" fill="#fff" stroke="#1c1c1c" stroke-width="1.46" transform="rotate(-30 467.83 208.67)"/>
<ellipse cx="468.17" cy="208.67" rx="12.00" ry="17.60" fill="none" stroke="#1c1c1c" stroke-width="0.90" transform="rotate(-30 468.17 208.67)"/>
<path d="M 464.67 196.33 L 466.00 193.33 L 468.00 195.67 Z" fill="none" stroke="#1c1c1c" stroke-width="0.90" />
<path d="M 470.00 208.00 L 476.67 214.17 L 481.67 211.33" fill="none" stroke="#1c1c1c" stroke-width="1.01" />
<path d="M461.67,213.00 L472.00,207.00" fill="none" stroke="#1c1c1c" stroke-width="1.18" stroke-dasharray="12 2.5 2 2.5"/>
<path d="M497.50,193.75 L511.00,186.00" fill="none" stroke="#1c1c1c" stroke-width="1.18" stroke-dasharray="12 2.5 2 2.5"/>
<path d="M 478.00 152.50 L 509.50 135.50 Q 512.50 135.00 512.00 137.50 L 479.50 155.00 Z" fill="#fff" stroke="#1c1c1c" stroke-width="1.12" />
<path d="M 479.00 153.75 L 487.50 149.25" fill="none" stroke="#1c1c1c" stroke-width="1.23" />
<ellipse cx="510.75" cy="136.50" rx="1.60" ry="2.00" fill="#555" stroke="#1c1c1c" stroke-width="0.90" transform="rotate(-30 510.75 136.50)"/>
<ellipse cx="473.75" cy="157.00" rx="1.80" ry="3.00" fill="#444" stroke="#1c1c1c" stroke-width="1.12" transform="rotate(-30 473.75 157.00)"/>
<path d="M 532.26 171.65 L 553.41 160.07" fill="none" stroke="#1c1c1c" stroke-width="1.01" />
<path d="M 509.10 171.65 Q 512.12 166.11 516.65 162.59 L 519.17 160.88 L 521.69 161.28 L 521.38 162.89 Q 527.23 163.60 531.25 166.11 L 532.46 168.63 L 529.44 170.34 Q 525.21 169.13 521.38 172.66 L 516.65 174.17 Q 512.12 174.17 509.10 171.65 Z" fill="#fff" stroke="#1c1c1c" stroke-width="1.34" />
<path d="M 516.65 162.59 Q 518.67 167.62 520.18 173.16 M 510.11 171.65 Q 513.13 169.13 515.64 166.62" fill="none" stroke="#1c1c1c" stroke-width="1.01" />
<path d="M 523.70 173.16 Q 530.25 172.16 533.77 174.67 Q 537.30 177.69 538.50 180.72 L 535.79 181.02 Q 532.26 179.20 525.21 177.69 Z" fill="#fff" stroke="#1c1c1c" stroke-width="1.34" />
<path d="M 526.22 174.17 Q 532.26 175.68 535.79 180.21" fill="none" stroke="#1c1c1c" stroke-width="0.90" />
<path d="M 520.18 182.23 L 525.01 193.50 L 527.23 193.50 L 525.72 182.73 Z" fill="#fff" stroke="#1c1c1c" stroke-width="1.34" />
<path d="M 527.02 180.21 L 532.76 189.07 L 534.88 188.27 L 529.74 179.20 Z" fill="#fff" stroke="#1c1c1c" stroke-width="1.34" />
<path d="M 528.74 180.72 L 533.77 188.67" fill="none" stroke="#1c1c1c" stroke-width="1.68" />
<path d="M 515.14 181.22 L 514.94 187.06 L 517.96 185.25 L 518.67 182.73 Z" fill="#fff" stroke="#1c1c1c" stroke-width="1.34" />
<ellipse cx="519.67" cy="178.70" rx="4.30" ry="6.00" fill="#222" stroke="#1c1c1c" stroke-width="1.12" transform="rotate(-30 519.67 178.70)"/>
<path d="M 516.65 175.18 L 522.69 182.23 M 518.16 174.17 L 521.38 183.23 M 520.68 174.17 L 519.17 183.23 M 523.20 176.38 L 516.35 180.72" fill="none" stroke="#aaa" stroke-width="0.67" />
<path d="M 540.17 110.17 L 590.83 82.00 L 630.00 105.00 L 630.00 145.83 L 571.67 179.67 L 567.50 181.67 L 569.67 175.00 L 569.67 148.33 Q 567.50 136.67 559.67 132.33 L 565.00 140.17 L 529.33 160.00 Q 527.67 160.00 527.50 157.83 L 527.50 123.00 Q 528.67 118.67 534.00 118.17 L 539.00 121.83 L 540.17 122.00 Z" fill="#fff" stroke="#1c1c1c" stroke-width="1.46" />
<path d="M 540.17 110.17 L 559.67 121.33 L 559.67 132.33 M 540.17 110.17 L 540.17 122.00 L 539.00 121.83 L 534.00 118.17 M 559.67 121.33 L 574.33 112.67 L 554.17 101.17 M 574.33 112.67 L 610.83 105.00 L 589.00 92.00 L 554.17 101.17 M 559.67 132.33 L 610.83 103.67" fill="none" stroke="#1c1c1c" stroke-width="1.12" />
<path d="M 534.00 118.17 L 540.17 114.67" fill="none" stroke="#1c1c1c" stroke-width="0.90" />
<path d="M 559.67 132.33 Q 567.50 136.33 569.67 148.33 L 569.67 175.00 Q 570.00 179.17 567.50 181.67" fill="none" stroke="#1c1c1c" stroke-width="1.68" />
<path d="M 571.67 146.67 L 571.67 179.67" fill="none" stroke="#1c1c1c" stroke-width="1.12" />
<path d="M 570.67 139.67 L 630.00 105.00" fill="none" stroke="#1c1c1c" stroke-width="1.12" />
<path d="M 571.67 146.67 L 630.00 113.00" fill="none" stroke="#1c1c1c" stroke-width="1.12" />
<path d="M 571.67 149.33 L 630.00 115.67" fill="none" stroke="#1c1c1c" stroke-width="0.90" />
<path d="M 571.67 161.67 L 630.00 128.00" fill="none" stroke="#1c1c1c" stroke-width="1.01" />
<path d="M 571.67 164.17 L 630.00 130.50" fill="none" stroke="#1c1c1c" stroke-width="2.02" />
<path d="M 571.67 168.67 L 630.00 135.00" fill="none" stroke="#1c1c1c" stroke-width="1.01" />
<path d="M 571.67 173.67 L 630.00 140.00" fill="none" stroke="#1c1c1c" stroke-width="1.01" />
<path d="M 613.33 140.83 L 618.33 138.00 L 618.67 140.33 L 613.67 143.17 Z" fill="#555" stroke="#1c1c1c" stroke-width="0.67" />
<path d="M 570.00 150.83 L 571.67 150.00 L 571.67 154.17 L 570.00 155.00 M 570.00 166.33 L 571.67 165.50 L 571.67 169.67 L 570.00 170.50" fill="none" stroke="#1c1c1c" stroke-width="0.90" />
<path d="M 534.00 118.17 Q 528.67 118.67 527.50 123.00 L 527.50 157.83 Q 527.83 160.00 529.33 160.00 L 565.00 140.17" fill="none" stroke="#1c1c1c" stroke-width="1.57" />
<path d="M 531.67 126.67 L 551.00 116.83 M 540.00 122.00 L 551.50 116.17 M 541.00 119.83 L 549.33 115.67" fill="none" stroke="#1c1c1c" stroke-width="0.90" />
<path d="M 530.67 137.00 L 558.67 123.50" fill="none" stroke="#1c1c1c" stroke-width="1.34" />
<path d="M 529.50 139.17 L 558.67 125.17" fill="none" stroke="#1c1c1c" stroke-width="0.90" />
<path d="M 527.67 147.83 L 531.67 145.83 L 559.33 131.33" fill="none" stroke="#1c1c1c" stroke-width="1.46" />
<path d="M 530.67 125.50 L 530.67 128.00 M 530.67 142.67 L 530.67 145.00" fill="none" stroke="#1c1c1c" stroke-width="1.79" />
<path d="M572.00,178.00 L612.00,199.00" fill="none" stroke="#1c1c1c" stroke-width="1.18" stroke-dasharray="12 2.5 2 2.5"/>
<path d="M 613.00 190.50 L 617.50 192.50 Q 621.50 192.50 622.00 195.00 Q 621.00 197.50 617.50 196.50 L 612.50 193.00 Z" fill="#333" stroke="#1c1c1c" stroke-width="1.01" />
<path d="M 388.67 365.50 L 397.83 370.50" fill="none" stroke="#1c1c1c" stroke-width="1.01" />
<path d="M 368.67 354.33 L 370.67 353.00 L 373.67 354.33 L 374.00 356.33 L 376.67 355.50 L 380.67 357.67 L 381.33 359.67 L 387.00 362.17 Q 389.00 363.33 388.67 365.50 Q 387.33 367.17 385.33 366.67 L 380.00 364.33 L 378.00 364.67 L 373.67 362.67 L 373.33 360.50 L 370.67 359.67 Z" fill="#fff" stroke="#1c1c1c" stroke-width="1.12" />
<path d="M 374.00 356.33 L 373.67 362.33 M 376.67 355.50 L 376.33 363.33 M 378.67 356.67 L 378.33 364.33 M 380.67 357.67 L 380.33 364.33" fill="none" stroke="#1c1c1c" stroke-width="1.79" />
<path d="M 382.67 360.33 L 382.00 365.33 M 384.33 361.17 L 383.67 366.17 M 386.00 362.00 L 385.33 366.67" fill="none" stroke="#1c1c1c" stroke-width="0.90" />
<path d="M419.30,390.00 L419.30,397.70 L241.80,501.50" fill="none" stroke="#1c1c1c" stroke-width="1.18" stroke-dasharray="12 2.5 2 2.5"/>
<line x1="241.80" y1="501.50" x2="241.80" y2="504.50" stroke="#1c1c1c" stroke-width="1.01" />
<path d="M 436.17 378.83 L 452.83 368.83" fill="none" stroke="#1c1c1c" stroke-width="1.01" />
<path d="M 432.00 391.33 L 447.00 400.50" fill="none" stroke="#1c1c1c" stroke-width="1.01" />
<ellipse cx="402.83" cy="379.67" rx="3.00" ry="3.60" fill="#fff" stroke="#1c1c1c" stroke-width="1.12" transform="rotate(90 402.83 379.67)"/>
<path d="M399.23,384.67 L399.23,379.67 L406.43,379.67 L406.43,384.67 Z" fill="#fff" stroke="none"/>
<line x1="399.23" y1="384.67" x2="399.23" y2="379.67" stroke="#1c1c1c" stroke-width="1.12" />
<line x1="406.43" y1="384.67" x2="406.43" y2="379.67" stroke="#1c1c1c" stroke-width="1.12" />
<ellipse cx="402.83" cy="384.67" rx="3.00" ry="3.60" fill="#fff" stroke="#1c1c1c" stroke-width="1.12" transform="rotate(90 402.83 384.67)"/>
<path d="M 408.00 385.50 L 408.00 391.33 Q 412.00 394.33 416.00 391.33 L 416.00 385.50 Z" fill="#fff" stroke="#1c1c1c" stroke-width="1.12" />
<ellipse cx="412.00" cy="390.00" rx="2.80" ry="2.60" fill="#222" stroke="#1c1c1c" stroke-width="0.90"/>
<path d="M 424.67 385.50 L 424.67 391.33 Q 428.67 394.33 432.67 391.33 L 432.67 385.50 Z" fill="#fff" stroke="#1c1c1c" stroke-width="1.12" />
<ellipse cx="428.67" cy="390.00" rx="2.80" ry="2.60" fill="#222" stroke="#1c1c1c" stroke-width="0.90"/>
<path d="M 417.33 385.50 L 417.33 390.50 L 422.00 390.50 L 422.00 385.50 Z" fill="#fff" stroke="#1c1c1c" stroke-width="1.01" />
<path d="M 397.83 372.67 L 397.83 376.00 L 418.67 386.00 L 436.33 380.00 L 436.33 376.83 L 418.67 382.33 Z" fill="#fff" stroke="#1c1c1c" stroke-width="1.23" />
<path d="M 401.17 344.67 L 411.17 340.00 L 432.00 347.67 L 436.33 377.00 L 418.67 382.33 L 397.83 373.00 Z" fill="#fff" stroke="#1c1c1c" stroke-width="1.34" />
<path d="M 401.17 344.67 L 419.50 354.33 L 432.00 347.67 M 419.50 354.33 L 418.67 382.33" fill="none" stroke="#1c1c1c" stroke-width="1.23" />
<path d="M 402.50 346.33 L 400.00 371.67 M 420.67 355.67 L 420.33 380.67" fill="none" stroke="#1c1c1c" stroke-width="0.67" />
<ellipse cx="412.83" cy="344.17" rx="1.90" ry="3.30" fill="#fff" stroke="#1c1c1c" stroke-width="1.12" transform="rotate(90 412.83 344.17)"/>
<path d="M409.53,338.67 L409.53,344.17 L416.13,344.17 L416.13,338.67 Z" fill="#fff" stroke="none"/>
<line x1="409.53" y1="338.67" x2="409.53" y2="344.17" stroke="#1c1c1c" stroke-width="1.12" />
<line x1="416.13" y1="338.67" x2="416.13" y2="344.17" stroke="#1c1c1c" stroke-width="1.12" />
<ellipse cx="412.83" cy="338.67" rx="1.90" ry="3.30" fill="#fff" stroke="#1c1c1c" stroke-width="1.12" transform="rotate(90 412.83 338.67)"/>
<ellipse cx="412.83" cy="338.50" rx="3.30" ry="1.90" fill="#fff" stroke="#1c1c1c" stroke-width="1.12"/>
<ellipse cx="418.17" cy="347.00" rx="1.30" ry="0.90" fill="none" stroke="#1c1c1c" stroke-width="0.90"/>
<path d="M 452.83 366.67 L 462.00 362.17 Q 464.00 362.17 464.00 364.33 L 455.00 369.67 Q 453.00 369.67 452.83 366.67 Z" fill="#fff" stroke="#1c1c1c" stroke-width="1.12" />
<path d="M 454.17 366.00 L 455.67 369.33 M 455.67 365.33 L 457.17 368.50 M 457.17 364.67 L 458.67 367.67 M 458.67 363.83 L 460.17 366.83 M 460.17 363.17 L 461.67 366.00 M 461.67 362.50 L 463.00 365.17" fill="none" stroke="#1c1c1c" stroke-width="1.57" />
<path d="M465.00,363.50 L483.75,353.25" fill="none" stroke="#1c1c1c" stroke-width="1.18" stroke-dasharray="12 2.5 2 2.5"/>
<g transform="translate(459.62 407.29) rotate(29)"><rect x="-14.75" y="-3.90" width="9.00" height="7.80" rx="1" fill="#262626" stroke="#1c1c1c" stroke-width="0.8"/></g>
<ellipse cx="459.62" cy="408.29" rx="8.75" ry="13.00" fill="#fff" stroke="#1c1c1c" stroke-width="1.34" transform="rotate(29 459.62 408.29)"/>
<path d="M461.10,423.97 L453.31,419.66 L465.92,396.92 L473.70,401.23 Z" fill="#fff" stroke="none"/>
<line x1="461.10" y1="423.97" x2="453.31" y2="419.66" stroke="#1c1c1c" stroke-width="1.34" />
<line x1="473.70" y1="401.23" x2="465.92" y2="396.92" stroke="#1c1c1c" stroke-width="1.34" />
<ellipse cx="467.40" cy="412.60" rx="8.75" ry="13.00" fill="#fff" stroke="#1c1c1c" stroke-width="1.34" transform="rotate(29 467.40 412.60)"/>
<ellipse cx="467.40" cy="412.60" rx="7.17" ry="10.66" fill="#fff" stroke="#444" stroke-width="1.68" transform="rotate(29 467.40 412.60)"/>
<ellipse cx="467.40" cy="412.60" rx="5.42" ry="8.06" transform="rotate(29 467.40 412.60)" fill="none" stroke="#333" stroke-width="2.3" stroke-dasharray="0.8 1.9" />
<path d="M461.97,414.16 L473.70,410.00 L471.77,419.10 L464.77,421.44 Z" fill="#fff" stroke="none"/>
<line x1="461.97" y1="416.50" x2="473.70" y2="411.04" stroke="#1c1c1c" stroke-width="1.68" />
<path d="M 509.17 335.83 L 514.67 333.33" fill="none" stroke="#1c1c1c" stroke-width="1.01" />
<path d="M 483.33 343.67 L 487.50 342.00 L 493.67 344.67 L 500.00 348.33 L 500.00 353.00 L 504.17 355.33 L 508.33 353.33 L 509.17 343.67 L 487.00 337.50 Z" fill="#fff" stroke="#1c1c1c" stroke-width="1.23" />
<path d="M 483.33 343.67 L 483.33 350.00 L 488.00 352.67 L 493.67 350.00 L 493.67 344.67 M 488.00 352.67 L 500.00 353.00" fill="none" stroke="#1c1c1c" stroke-width="1.12" />
<ellipse cx="487.33" cy="349.00" rx="2.40" ry="2.80" fill="#222" stroke="#1c1c1c" stroke-width="0.90"/>
<ellipse cx="505.00" cy="351.00" rx="2.40" ry="2.80" fill="#222" stroke="#1c1c1c" stroke-width="0.90"/>
<path d="M 487.00 333.33 L 487.00 342.00 Q 498.00 350.00 509.17 342.00 L 509.17 333.33 Z" fill="#fff" stroke="#1c1c1c" stroke-width="1.23" />
<ellipse cx="498.00" cy="333.33" rx="11.10" ry="3.80" fill="#fff" stroke="#1c1c1c" stroke-width="1.23"/>
<path d="M 487.00 335.83 Q 498.00 342.50 509.17 335.83" fill="none" stroke="#1c1c1c" stroke-width="0.90" />
<ellipse cx="498.17" cy="331.00" rx="9.30" ry="3.40" fill="#fff" stroke="#1c1c1c" stroke-width="2.02"/>
<path d="M 491.67 315.33 L 491.67 328.67 Q 498.00 332.50 504.33 328.67 L 504.33 315.33 Z" fill="#fff" stroke="#1c1c1c" stroke-width="1.23" />
<ellipse cx="498.00" cy="315.33" rx="6.30" ry="2.50" fill="#fff" stroke="#1c1c1c" stroke-width="1.23"/>
<path d="M 493.00 320.33 L 493.00 329.33" fill="none" stroke="#1c1c1c" stroke-width="1.12" />
<path d="M 494.50 320.33 L 494.50 329.33" fill="none" stroke="#1c1c1c" stroke-width="1.12" />
<path d="M 496.00 320.33 L 496.00 329.33" fill="none" stroke="#1c1c1c" stroke-width="1.12" />
<path d="M 497.50 320.33 L 497.50 329.33" fill="none" stroke="#1c1c1c" stroke-width="1.12" />
<path d="M 499.00 320.33 L 499.00 329.33" fill="none" stroke="#1c1c1c" stroke-width="1.12" />
<path d="M 500.50 320.33 L 500.50 329.33" fill="none" stroke="#1c1c1c" stroke-width="1.12" />
<path d="M 502.00 320.33 L 502.00 329.33" fill="none" stroke="#1c1c1c" stroke-width="1.12" />
<path d="M 503.33 320.33 L 503.33 329.33" fill="none" stroke="#1c1c1c" stroke-width="1.12" />
<path d="M 491.67 319.67 Q 498.00 323.33 504.33 319.67" fill="none" stroke="#1c1c1c" stroke-width="0.90" />
<path d="M 513.67 332.67 L 516.33 331.00 L 517.67 334.33 L 515.00 335.67 Z" fill="#333" stroke="#1c1c1c" stroke-width="0.90" />
<path d="M 516.67 330.00 L 520.67 328.00 L 522.67 333.00 L 518.67 335.00 Z" fill="#fff" stroke="#1c1c1c" stroke-width="1.12" />
<path d="M 517.67 329.67 L 519.33 334.33 M 519.00 329.00 L 520.67 333.67" fill="none" stroke="#1c1c1c" stroke-width="1.68" />
<path d="M 520.83 326.67 L 531.33 320.00 Q 535.00 319.67 536.00 324.17 Q 536.33 327.50 533.33 328.67 L 523.33 333.33 Z" fill="#fff" stroke="#1c1c1c" stroke-width="1.23" />
<path d="M 522.17 326.00 L 524.50 332.67 M 523.67 325.00 L 526.00 331.67" fill="none" stroke="#1c1c1c" stroke-width="1.12" />
<line x1="507.50" y1="353.00" x2="519.50" y2="360.00" stroke="#1c1c1c" stroke-width="1.01" />
<g transform="translate(530.14 365.26) rotate(29)"><rect x="-12.40" y="-3.30" width="8.00" height="6.60" rx="1" fill="#262626" stroke="#1c1c1c" stroke-width="0.8"/></g>
<ellipse cx="530.14" cy="366.26" rx="7.40" ry="11.00" fill="#fff" stroke="#1c1c1c" stroke-width="1.34" transform="rotate(29 530.14 366.26)"/>
<path d="M531.37,379.52 L524.81,375.88 L535.47,356.64 L542.03,360.28 Z" fill="#fff" stroke="none"/>
<line x1="531.37" y1="379.52" x2="524.81" y2="375.88" stroke="#1c1c1c" stroke-width="1.34" />
<line x1="542.03" y1="360.28" x2="535.47" y2="356.64" stroke="#1c1c1c" stroke-width="1.34" />
<ellipse cx="536.70" cy="369.90" rx="7.40" ry="11.00" fill="#fff" stroke="#1c1c1c" stroke-width="1.34" transform="rotate(29 536.70 369.90)"/>
<ellipse cx="536.70" cy="369.90" rx="6.07" ry="9.02" fill="#fff" stroke="#444" stroke-width="1.68" transform="rotate(29 536.70 369.90)"/>
<ellipse cx="536.70" cy="369.90" rx="4.59" ry="6.82" transform="rotate(29 536.70 369.90)" fill="none" stroke="#333" stroke-width="2.3" stroke-dasharray="0.8 1.9" />
<path d="M532.11,371.22 L542.03,367.70 L540.40,375.40 L534.48,377.38 Z" fill="#fff" stroke="none"/>
<line x1="532.11" y1="373.20" x2="542.03" y2="368.58" stroke="#1c1c1c" stroke-width="1.68" />
<path d="M 211.59 531.04 L 221.95 475.25 Q 224.54 460.22 235.25 452.80 Q 241.81 449.34 249.59 452.45 L 273.77 466.61 L 269.10 474.56 L 249.59 462.82 Q 245.27 460.22 240.95 461.43 Q 234.04 464.54 232.49 472.31 L 222.82 525.34 Z" fill="#fff" stroke="#1c1c1c" stroke-width="1.34" />
<ellipse cx="271.87" cy="470.76" rx="3.60" ry="4.80" fill="#fff" stroke="#1c1c1c" stroke-width="1.34" transform="rotate(-28 271.87 470.76)"/>
<ellipse cx="272.21" cy="470.76" rx="2.20" ry="3.10" fill="none" stroke="#1c1c1c" stroke-width="1.12" transform="rotate(-28 272.21 470.76)"/>
<path d="M 276.25 473.00 L 280.50 475.50" fill="none" stroke="#1c1c1c" stroke-width="1.01" />
<ellipse cx="284.12" cy="478.60" rx="4.60" ry="6.00" fill="#fff" stroke="#1c1c1c" stroke-width="1.23" transform="rotate(27 284.12 478.60)"/>
<path d="M302.78,494.85 L281.39,483.95 L286.84,473.26 L308.22,484.15 Z" fill="#fff" stroke="none"/>
<line x1="302.78" y1="494.85" x2="281.39" y2="483.95" stroke="#1c1c1c" stroke-width="1.23" />
<line x1="308.22" y1="484.15" x2="286.84" y2="473.26" stroke="#1c1c1c" stroke-width="1.23" />
<ellipse cx="305.50" cy="489.50" rx="4.60" ry="6.00" fill="#fff" stroke="#1c1c1c" stroke-width="1.23" transform="rotate(27 305.50 489.50)"/>
<ellipse cx="305.50" cy="489.50" rx="3.20" ry="4.40" fill="none" stroke="#1c1c1c" stroke-width="1.01" transform="rotate(27 305.50 489.50)"/>
<path d="M 288.00 474.50 Q 285.00 480.00 287.00 486.25 M 292.50 476.50 Q 289.50 482.00 291.50 488.25" fill="none" stroke="#1c1c1c" stroke-width="0.90" />
<path d="M243.9,597.6 L248.2,610.5 L256,614.3 L272.4,605.7 L272.4,578 L256,586 Z" fill="#fff" stroke="#1c1c1c" stroke-width="1.23" />
<path d="M256,587.2 L256,610.3 M248.2,610.5 L256,610.3 M246.5,598.2 L250.5,608.5" fill="none" stroke="#1c1c1c" stroke-width="1.12" />
<path d="M97.1,597.5 L237,518.1 Q262,505 279,532 Q292,560 273.3,580.3 L262,582.6 L133,661.5 Z" fill="#fff" stroke="none" stroke-width="0.00" />
<path d="M97.1,597.5 L237,518.1 M133,661.5 L243.9,593.8 M256,586.4 L265,580.7" fill="none" stroke="#1c1c1c" stroke-width="1.23" />
<path d="M246.5,516.8 Q268,516 279.5,534 Q292,558 273.3,580.3" fill="none" stroke="#1c1c1c" stroke-width="1.23" />
<path d="M246.5,519.5 Q265,520 275.5,536 Q286,558 271.5,581.2" fill="none" stroke="#1c1c1c" stroke-width="1.01" />
<ellipse cx="119.00" cy="627.20" rx="27.50" ry="36.50" fill="#fff" stroke="#1c1c1c" stroke-width="1.12" transform="rotate(-29.4 119.00 627.20)"/>
<ellipse cx="115.00" cy="629.30" rx="27.50" ry="36.50" fill="#fff" stroke="#1c1c1c" stroke-width="1.34" transform="rotate(-29.4 115.00 629.30)"/>
<path d="M 110.05 612.82 L 110.05 603.47 L 123.40 612.15 L 123.40 617.49" fill="none" stroke="#1c1c1c" stroke-width="1.57" />
<path d="M 112.06 611.48 L 112.06 606.81 L 121.40 612.82" fill="none" stroke="#1c1c1c" stroke-width="0.78" />
<path d="M 141.76 656.88 L 160.12 645.19 L 167.46 666.22 L 168.46 670.89 L 150.11 682.24 L 120.07 664.22 L 129.41 664.22 Z" fill="#fff" stroke="#1c1c1c" stroke-width="1.23" />
<path d="M 141.76 656.88 L 150.11 677.57 L 150.11 682.24 M 150.11 677.57 L 167.46 666.22 M 129.41 664.22 L 150.11 677.57" fill="none" stroke="#1c1c1c" stroke-width="1.01" />
<ellipse cx="246.50" cy="549.20" rx="5.20" ry="3.90" fill="#fff" stroke="#1c1c1c" stroke-width="1.23" transform="rotate(-30 246.50 549.20)"/>
<ellipse cx="248.60" cy="548.20" rx="2.90" ry="2.60" fill="#fff" stroke="#1c1c1c" stroke-width="1.57" transform="rotate(-30 248.60 548.20)"/>
<path d="M254.30,551.00 L361.70,610.00" fill="none" stroke="#1c1c1c" stroke-width="1.18" stroke-dasharray="12 2.5 2 2.5"/>
<path d="M237.2,506 L237.2,524.5 Q241.8,527.5 246.4,524.5 L246.4,506 Z" fill="#fff" stroke="#1c1c1c" stroke-width="1.12" />
<path d="M237.2,506 L237.2,513.5 Q241.8,516 246.4,513.5 L246.4,506 Q241.8,503.6 237.2,506 Z" fill="#333" stroke="#1c1c1c" stroke-width="1.01" />
<path d="M115.8,575.3 L115.8,587.5 L119,585.8 L119,578 L158.3,598.3 L158.3,607 L165.5,611.2 L173.4,607 L173.4,598.8 L187.8,590.5 L187.8,599 L204.2,589 L204.2,573.4 Z" fill="#fff" stroke="#1c1c1c" stroke-width="1.46" />
<path d="M160.5,605.5 L165.5,608.5 L171.2,605.5 L171.2,600" fill="none" stroke="#1c1c1c" stroke-width="1.01" />
<path d="M115.8,575.3 L162.6,549.4 L204.2,573.4 L158.3,598.3 Z" fill="#fff" stroke="#1c1c1c" stroke-width="1.34" />
<path d="M119,577.4 L158.3,597 L204.2,575" fill="none" stroke="#1c1c1c" stroke-width="0.67" />
<path d="M115.8,575.3 L115.8,587.5" fill="none" stroke="#1c1c1c" stroke-width="2.24" />
<path d="M158.3,598.3 L158.3,607 L165.5,611.2" fill="none" stroke="#1c1c1c" stroke-width="2.02" />
<ellipse cx="144.00" cy="566.00" rx="2.00" ry="1.30" fill="none" stroke="#1c1c1c" stroke-width="1.12"/>
<ellipse cx="125.50" cy="576.50" rx="2.00" ry="1.30" fill="none" stroke="#1c1c1c" stroke-width="1.12"/>
<ellipse cx="176.80" cy="584.30" rx="2.00" ry="1.30" fill="none" stroke="#1c1c1c" stroke-width="1.12"/>
<ellipse cx="158.00" cy="595.00" rx="2.00" ry="1.30" fill="none" stroke="#1c1c1c" stroke-width="1.12"/>
<path d="M165.90,520.00 L165.90,561.00" fill="none" stroke="#1c1c1c" stroke-width="1.18" stroke-dasharray="12 2.5 2 2.5"/>
<line x1="228.30" y1="616.70" x2="228.30" y2="627.00" stroke="#1c1c1c" stroke-width="1.01" />
<path d="M 225.54 626.84 L 231.55 626.84 L 231.55 632.18 L 230.55 633.18 L 230.55 641.52 L 229.55 642.86 L 227.54 642.86 L 226.54 641.52 L 226.54 633.18 L 225.54 632.18 Z" fill="#fff" stroke="#1c1c1c" stroke-width="1.12" />
<path d="M 225.54 628.84 L 231.55 628.84 M 225.54 630.84 L 231.55 630.84 M 226.54 633.51 L 230.55 633.51 M 226.54 635.51 L 230.55 634.85 M 226.54 637.52 L 230.55 636.85 M 226.54 639.52 L 230.55 638.85 M 226.54 641.52 L 230.55 640.85" fill="none" stroke="#1c1c1c" stroke-width="1.01" />
<path d="M 227.54 626.84 L 227.54 632.18 M 229.55 626.84 L 229.55 632.18" fill="none" stroke="#1c1c1c" stroke-width="0.78" />
<line x1="260.00" y1="630.00" x2="260.00" y2="641.50" stroke="#1c1c1c" stroke-width="1.01" />
<path d="M 251.58 642.86 L 254.25 654.21 Q 260.92 658.21 267.60 654.21 L 270.27 642.86 Z" fill="#fff" stroke="#1c1c1c" stroke-width="1.23" />
<ellipse cx="260.92" cy="642.86" rx="9.30" ry="3.60" fill="#fff" stroke="#1c1c1c" stroke-width="1.23"/>
<ellipse cx="260.92" cy="642.86" rx="4.20" ry="1.60" fill="none" stroke="#1c1c1c" stroke-width="0.90"/>
<ellipse cx="260.25" cy="662.55" rx="2.70" ry="1.70" fill="#333" stroke="#1c1c1c" stroke-width="1.34"/>
<ellipse cx="260.25" cy="662.22" rx="1.00" ry="0.50" fill="#fff" stroke="#1c1c1c" stroke-width="0.34"/>
<ellipse cx="260.25" cy="672.56" rx="3.20" ry="1.80" fill="#333" stroke="#1c1c1c" stroke-width="1.34"/>
<ellipse cx="260.25" cy="672.23" rx="1.20" ry="0.60" fill="#fff" stroke="#1c1c1c" stroke-width="0.34"/>
<path d="M 257.58 678.91 L 263.59 678.91 L 263.59 681.91 L 262.26 682.58 L 262.26 688.58 L 258.58 688.58 L 258.58 682.58 L 257.58 681.91 Z" fill="#333" stroke="#1c1c1c" stroke-width="1.01" />
<ellipse cx="160.25" cy="669.30" rx="1.60" ry="2.00" fill="#fff" stroke="#1c1c1c" stroke-width="1.34" transform="rotate(29 160.25 669.30)"/>
<ellipse cx="170.85" cy="674.53" rx="2.10" ry="2.70" fill="#fff" stroke="#1c1c1c" stroke-width="1.79" transform="rotate(29 170.85 674.53)"/>
<path d="M 163.73 671.36 L 168.48 673.42" fill="none" stroke="#1c1c1c" stroke-width="0.90" />
<ellipse cx="179.27" cy="679.29" rx="3.90" ry="5.40" fill="#333" stroke="#1c1c1c" stroke-width="1.23" transform="rotate(29 179.27 679.29)"/>
<path d="M178.05,684.79 L176.65,684.01 L181.88,674.56 L183.28,675.34 Z" fill="#333" stroke="none"/>
<line x1="178.05" y1="684.79" x2="176.65" y2="684.01" stroke="#1c1c1c" stroke-width="1.23" />
<line x1="183.28" y1="675.34" x2="181.88" y2="674.56" stroke="#1c1c1c" stroke-width="1.23" />
<ellipse cx="180.66" cy="680.06" rx="3.90" ry="5.40" fill="#333" stroke="#1c1c1c" stroke-width="1.23" transform="rotate(29 180.66 680.06)"/>
<ellipse cx="180.66" cy="680.06" rx="3.90" ry="5.40" fill="#3a3a3a" stroke="#1c1c1c" stroke-width="1.12" transform="rotate(29 180.66 680.06)"/>
<ellipse cx="180.98" cy="680.22" rx="1.90" ry="2.70" fill="#fff" stroke="#1c1c1c" stroke-width="1.01" transform="rotate(29 180.98 680.22)"/>
<ellipse cx="180.98" cy="680.22" rx="0.80" ry="1.20" fill="#333" stroke="#1c1c1c" stroke-width="0.56" transform="rotate(29 180.98 680.22)"/>
<ellipse cx="197.34" cy="690.30" rx="11.70" ry="15.60" fill="#222" stroke="#1c1c1c" stroke-width="1.57" transform="rotate(29 197.34 690.30)"/>
<path d="M194.15,706.37 L189.77,703.94 L204.90,676.65 L209.27,679.08 Z" fill="#222" stroke="none"/>
<line x1="194.15" y1="706.37" x2="189.77" y2="703.94" stroke="#1c1c1c" stroke-width="1.57" />
<line x1="209.27" y1="679.08" x2="204.90" y2="676.65" stroke="#1c1c1c" stroke-width="1.57" />
<ellipse cx="201.71" cy="692.72" rx="11.70" ry="15.60" fill="#222" stroke="#1c1c1c" stroke-width="1.57" transform="rotate(29 201.71 692.72)"/>
<ellipse cx="201.71" cy="692.72" rx="11.70" ry="15.60" fill="#fff" stroke="#1c1c1c" stroke-width="1.46" transform="rotate(29 201.71 692.72)"/>
<ellipse cx="201.87" cy="692.88" rx="9.30" ry="12.60" fill="#fff" stroke="#1c1c1c" stroke-width="1.12" transform="rotate(29 201.87 692.88)"/>
<ellipse cx="201.39" cy="692.41" rx="4.20" ry="5.80" fill="#fff" stroke="#1c1c1c" stroke-width="1.23" transform="rotate(29 201.39 692.41)"/>
<ellipse cx="201.08" cy="692.25" rx="2.60" ry="3.60" fill="#3a3a3a" stroke="#1c1c1c" stroke-width="1.01" transform="rotate(29 201.08 692.25)"/>
<ellipse cx="201.08" cy="692.25" rx="1.00" ry="1.40" fill="#bbb" stroke="#1c1c1c" stroke-width="0.45" transform="rotate(29 201.08 692.25)"/>
<path d="M203.29,694.62 L217.22,701.58" fill="none" stroke="#1c1c1c" stroke-width="1.18" stroke-dasharray="12 2.5 2 2.5"/>
<path d="M 217.22 701.58 L 226.23 705.70 L 227.34 703.80 L 218.80 699.68 Z" fill="#333" stroke="#1c1c1c" stroke-width="1.01" />
<path d="M 226.23 705.70 L 230.98 708.23 L 232.09 706.33 L 227.34 703.80 Z" fill="#fff" stroke="#1c1c1c" stroke-width="1.12" />
<path d="M 230.51 708.86 L 231.77 706.65 L 234.62 707.28 L 236.20 709.81 L 234.94 712.97 L 232.41 713.92 L 230.19 712.03 Z" fill="#fff" stroke="#1c1c1c" stroke-width="1.23" />
<path d="M 231.77 706.65 L 232.72 710.13 L 232.41 713.92 M 232.72 710.13 L 236.20 709.81" fill="none" stroke="#1c1c1c" stroke-width="0.90" />
<path d="M 340.74 486.05 L 340.74 537.34 Q 341.46 544.79 348.62 548.80 L 387.31 571.15 Q 391.60 573.72 396.19 571.15 L 463.52 530.46 L 461.52 525.30 L 394.47 563.98 Q 392.32 565.42 390.17 563.98 L 352.92 542.35 Q 349.20 540.20 348.62 535.90 L 348.62 486.05 Z" fill="#fff" stroke="#1c1c1c" stroke-width="1.34" />
<path d="M 417.45 550.13 L 462.84 525.43" fill="none" stroke="#1c1c1c" stroke-width="1.68" />
<path d="M 338.60 478.60 L 341.46 476.02 L 348.62 476.02 L 351.49 478.31 L 351.49 484.04 L 348.62 486.48 L 341.46 486.48 L 338.60 484.33 Z" fill="#fff" stroke="#1c1c1c" stroke-width="1.46" />
<path d="M 338.60 478.60 L 341.75 480.32 L 348.62 480.32 L 351.49 478.31 M 341.75 480.32 L 341.75 486.48 M 348.62 480.32 L 348.62 486.48" fill="none" stroke="#1c1c1c" stroke-width="1.01" />
<path d="M 463.49 522.54 L 467.29 518.05 L 473.68 517.01 L 477.82 519.78 L 478.17 525.65 L 474.89 530.14 L 468.67 531.35 L 464.18 528.07 Z" fill="#fff" stroke="#1c1c1c" stroke-width="1.46" />
<path d="M 467.29 518.05 L 471.43 520.81 L 471.78 526.68 L 468.67 531.35 M 471.43 520.81 L 477.82 519.78 M 471.78 526.68 L 478.17 525.65 M 463.49 522.54 L 467.29 524.61 L 471.78 526.68" fill="none" stroke="#1c1c1c" stroke-width="1.01" />
<path d="M476.70,520.00 L500.00,505.00" fill="none" stroke="#1c1c1c" stroke-width="1.18" stroke-dasharray="12 2.5 2 2.5"/>
<path d="M375.5,474.6 L386.5,467 Q389.5,465.2 393,466.2 L397,467.8 L414.5,480.4 Q418.5,482.6 419.4,478 L420.9,467" fill="none" stroke="#1c1c1c" stroke-width="2.35" />
<path d="M375.5,474.6 L386.5,467 Q389.5,465.2 393,466.2 L397,467.8 L414.5,480.4 Q418.5,482.6 419.4,478 L420.9,467" fill="none" stroke="#fff" stroke-width="0.67" />
<ellipse cx="375.30" cy="474.70" rx="1.50" ry="1.50" fill="#222" stroke="#1c1c1c" stroke-width="0.67"/>
<ellipse cx="420.90" cy="466.60" rx="1.40" ry="1.40" fill="#222" stroke="#1c1c1c" stroke-width="0.67"/>
<ellipse cx="509.93" cy="499.00" rx="2.40" ry="3.70" fill="#333" stroke="#1c1c1c" stroke-width="1.23" transform="rotate(-28 509.93 499.00)"/>
<path d="M505.05,505.78 L511.67,502.26 L508.19,495.73 L501.57,499.25 Z" fill="#333" stroke="none"/>
<line x1="505.05" y1="505.78" x2="511.67" y2="502.26" stroke="#1c1c1c" stroke-width="1.23" />
<line x1="501.57" y1="499.25" x2="508.19" y2="495.73" stroke="#1c1c1c" stroke-width="1.23" />
<ellipse cx="503.31" cy="502.52" rx="2.40" ry="3.70" fill="#333" stroke="#1c1c1c" stroke-width="1.23" transform="rotate(-28 503.31 502.52)"/>
<ellipse cx="503.31" cy="502.52" rx="2.40" ry="3.70" fill="#fff" stroke="#1c1c1c" stroke-width="1.34" transform="rotate(-28 503.31 502.52)"/>
<ellipse cx="503.53" cy="502.45" rx="1.30" ry="2.20" fill="none" stroke="#1c1c1c" stroke-width="0.90" transform="rotate(-28 503.53 502.45)"/>
<path d="M 506.91 489.42 L 516.62 484.39 Q 523.81 482.23 528.13 488.71 Q 530.29 494.46 527.41 498.78 L 520.22 501.65 L 511.58 504.10 L 510.29 500.22 L 506.69 496.62 Z" fill="#fff" stroke="#1c1c1c" stroke-width="1.23" />
<path d="M 516.62 484.39 Q 523.81 481.65 528.13 488.71 Q 530.43 494.46 527.27 498.92" fill="none" stroke="#1c1c1c" stroke-width="2.58" />
<path d="M 516.62 489.06 Q 520.58 494.46 519.50 501.29" fill="none" stroke="#1c1c1c" stroke-width="1.12" />
<path d="M 511.58 486.91 L 513.74 485.47 L 516.76 487.27 L 516.26 489.78 L 513.38 490.43 L 511.44 488.85 Z" fill="#222" stroke="#1c1c1c" stroke-width="0.90" />
<path d="M 506.55 491.01 L 507.27 488.42 L 511.44 487.41" fill="none" stroke="#1c1c1c" stroke-width="2.24" />
<path d="M515.00,510.00 L515.00,520.00 L361.70,610.00" fill="none" stroke="#1c1c1c" stroke-width="1.18" stroke-dasharray="12 2.5 2 2.5"/>
<path d="M443.2,613.5 Q414,614 394,623.5 Q371,635.5 350.7,654.5" fill="none" stroke="#1c1c1c" stroke-width="6.05" />
<path d="M443.2,613.5 Q414,614 394,623.5 Q371,635.5 350.7,654.5" fill="none" stroke="#fff" stroke-width="3.70" />
<ellipse cx="443.30" cy="613.50" rx="1.00" ry="2.30" fill="#fff" stroke="#1c1c1c" stroke-width="1.01" transform="rotate(-5 443.30 613.50)"/>
<path d="M 349.74 652.36 L 351.76 655.98" fill="none" stroke="#1c1c1c" stroke-width="1.46" />
<path d="M 350.25 652.76 L 336.65 648.13 M 350.25 654.17 L 336.65 649.74" fill="none" stroke="#1c1c1c" stroke-width="1.01" />
<path d="M 336.65 647.72 Q 334.13 645.11 330.11 646.11 L 331.62 648.13 L 328.09 650.64 L 330.11 652.36 L 334.64 651.65 Q 336.65 650.64 336.65 649.74 Z" fill="#fff" stroke="#1c1c1c" stroke-width="1.34" />
<path d="M 330.11 646.11 L 333.63 646.92 M 328.09 651.35 L 332.12 650.64" fill="none" stroke="#1c1c1c" stroke-width="2.46" />
<path d="M 350.25 654.77 L 331.11 656.38 M 350.25 655.98 L 331.11 658.20" fill="none" stroke="#777" stroke-width="1.01" />
<path d="M 345.21 655.68 L 332.12 657.19" fill="none" stroke="#999" stroke-width="1.79" />
<ellipse cx="327.29" cy="658.00" rx="2.60" ry="2.60" fill="#fff" stroke="#1c1c1c" stroke-width="1.68"/>
<path d="M 349.74 655.98 L 340.68 664.74 M 351.46 656.38 L 342.39 665.45" fill="none" stroke="#1c1c1c" stroke-width="1.01" />
<path d="M 339.67 664.74 L 342.69 666.25 L 341.38 669.78 L 338.67 674.31 L 337.36 673.50 L 338.67 670.28 L 335.64 669.78 L 336.65 666.76 Z" fill="#fff" stroke="#1c1c1c" stroke-width="1.23" />
<path d="M 336.35 667.46 L 335.64 670.28 M 339.17 670.79 L 337.76 673.91" fill="none" stroke="#1c1c1c" stroke-width="2.69" />
<path d="M494.5,630 Q512,615 529.3,602.3 Q545,591.5 588,588.6" fill="none" stroke="#1c1c1c" stroke-width="6.50" />
<path d="M494.5,630 Q512,615 529.3,602.3 Q545,591.5 588,588.6" fill="none" stroke="#fff" stroke-width="4.14" />
<path d="M 466.25 637.50 L 477.50 634.50 L 479.00 639.00 L 468.00 642.00 Q 465.50 641.25 466.25 637.50 Z" fill="#fff" stroke="#1c1c1c" stroke-width="1.34" />
<path d="M 471.25 647.50 L 482.00 644.50 L 483.00 649.00 L 473.00 652.00 Q 470.50 651.00 471.25 647.50 Z" fill="#fff" stroke="#1c1c1c" stroke-width="1.34" />
<path d="M 477.50 632.50 Q 480.00 627.00 487.00 627.00 Q 493.00 628.00 495.50 633.00 Q 494.50 640.00 489.00 644.50 Q 483.00 648.00 480.00 645.00 Q 476.50 640.00 477.50 632.50 Z" fill="#fff" stroke="#1c1c1c" stroke-width="1.46" />
<path d="M 487.00 627.00 Q 491.25 633.75 489.00 644.50 M 483.00 627.50 Q 486.25 635.00 484.00 646.25" fill="none" stroke="#1c1c1c" stroke-width="0.90" />
<path d="M 587.99 585.97 L 588.35 591.73" fill="none" stroke="#1c1c1c" stroke-width="1.46" />
<path d="M 588.35 585.47 L 595.90 581.51 M 588.85 586.69 L 596.76 582.81" fill="none" stroke="#1c1c1c" stroke-width="1.01" />
<path d="M 595.18 581.87 L 599.14 577.19 L 600.58 577.91 L 601.08 581.51 L 598.06 583.67 L 595.90 583.31 Z" fill="#333" stroke="#1c1c1c" stroke-width="1.12" />
<ellipse cx="596.76" cy="582.09" rx="1.00" ry="1.20" fill="#fff" stroke="#1c1c1c" stroke-width="0.45"/>
<path d="M 589.06 587.27 L 600.22 590.14 M 588.85 588.56 L 599.86 591.94" fill="none" stroke="#1c1c1c" stroke-width="1.01" />
<ellipse cx="602.52" cy="591.29" rx="2.40" ry="2.60" fill="#fff" stroke="#1c1c1c" stroke-width="2.02"/>
<path d="M 588.85 589.42 L 594.10 595.18 M 590.14 588.85 L 595.32 594.10" fill="none" stroke="#1c1c1c" stroke-width="1.01" />
<path d="M 593.74 594.10 L 596.26 593.38 L 600.94 595.18 L 600.58 596.76 L 598.42 598.06 L 594.46 597.34 Z" fill="#333" stroke="#1c1c1c" stroke-width="1.12" />
<ellipse cx="595.32" cy="595.54" rx="0.90" ry="1.30" fill="#fff" stroke="#1c1c1c" stroke-width="0.45"/>
<text transform="translate(177.00 32.05) scale(0.85 1)" text-anchor="middle">34</text>
<line x1="184.25" y1="28.75" x2="210.75" y2="43.25" stroke="#2e2e2e" stroke-width="1.25" />
<text transform="translate(177.00 44.55) scale(0.85 1)" text-anchor="middle">33</text>
<line x1="184.25" y1="41.25" x2="210.75" y2="55.50" stroke="#2e2e2e" stroke-width="1.25" />
<text transform="translate(177.00 57.05) scale(0.85 1)" text-anchor="middle">32</text>
<line x1="184.25" y1="53.75" x2="202.50" y2="63.75" stroke="#2e2e2e" stroke-width="1.25" />
<text transform="translate(293.25 59.30) scale(0.85 1)" text-anchor="middle">31</text>
<line x1="284.25" y1="58.25" x2="255.75" y2="72.50" stroke="#2e2e2e" stroke-width="1.25" />
<text transform="translate(293.25 87.30) scale(0.85 1)" text-anchor="middle">30</text>
<line x1="284.25" y1="86.25" x2="270.00" y2="93.25" stroke="#2e2e2e" stroke-width="1.25" />
<text transform="translate(293.25 102.80) scale(0.85 1)" text-anchor="middle">29</text>
<line x1="284.25" y1="102.00" x2="255.75" y2="116.25" stroke="#2e2e2e" stroke-width="1.25" />
<text transform="translate(292.50 119.05) scale(0.85 1)" text-anchor="middle">26</text>
<line x1="284.25" y1="119.25" x2="255.75" y2="133.00" stroke="#2e2e2e" stroke-width="1.25" />
<text transform="translate(292.50 130.30) scale(0.85 1)" text-anchor="middle">27</text>
<line x1="284.25" y1="129.50" x2="255.75" y2="143.75" stroke="#2e2e2e" stroke-width="1.25" />
<text transform="translate(293.25 138.55) scale(0.85 1)" text-anchor="middle">28</text>
<line x1="284.25" y1="138.75" x2="255.75" y2="152.50" stroke="#2e2e2e" stroke-width="1.25" />
<text transform="translate(293.25 152.80) scale(0.85 1)" text-anchor="middle">27</text>
<line x1="284.25" y1="152.50" x2="255.75" y2="166.75" stroke="#2e2e2e" stroke-width="1.25" />
<text transform="translate(292.50 165.30) scale(0.85 1)" text-anchor="middle">26</text>
<line x1="284.25" y1="165.50" x2="255.75" y2="179.50" stroke="#2e2e2e" stroke-width="1.25" />
<text transform="translate(292.50 180.80) scale(0.85 1)" text-anchor="middle">25</text>
<line x1="284.25" y1="181.25" x2="255.75" y2="195.00" stroke="#2e2e2e" stroke-width="1.25" />
<text transform="translate(329.50 191.05) scale(0.85 1)" text-anchor="middle">24</text>
<line x1="322.00" y1="191.25" x2="293.75" y2="205.00" stroke="#2e2e2e" stroke-width="1.25" />
<text transform="translate(329.50 217.30) scale(0.85 1)" text-anchor="middle">23</text>
<line x1="322.00" y1="217.50" x2="293.75" y2="231.25" stroke="#2e2e2e" stroke-width="1.25" />
<text transform="translate(329.50 241.05) scale(0.85 1)" text-anchor="middle">22</text>
<line x1="322.00" y1="241.25" x2="293.75" y2="255.00" stroke="#2e2e2e" stroke-width="1.25" />
<text transform="translate(168.00 207.55) scale(0.85 1)" text-anchor="middle">21</text>
<line x1="172.70" y1="206.40" x2="199.00" y2="220.40" stroke="#2e2e2e" stroke-width="1.25" />
<text transform="translate(168.00 234.05) scale(0.85 1)" text-anchor="middle">20</text>
<line x1="172.50" y1="232.50" x2="198.75" y2="247.00" stroke="#2e2e2e" stroke-width="1.25" />
<text transform="translate(125.75 239.80) scale(0.85 1)" text-anchor="middle">19</text>
<line x1="130.00" y1="238.75" x2="156.25" y2="252.50" stroke="#2e2e2e" stroke-width="1.25" />
<text transform="translate(125.75 264.05) scale(0.85 1)" text-anchor="middle">18</text>
<line x1="130.00" y1="263.00" x2="156.25" y2="276.25" stroke="#2e2e2e" stroke-width="1.25" />
<text transform="translate(121.25 281.05) scale(0.85 1)" text-anchor="middle">17</text>
<line x1="128.75" y1="279.00" x2="155.50" y2="291.00" stroke="#2e2e2e" stroke-width="1.25" />
<text transform="translate(120.75 293.05) scale(0.85 1)" text-anchor="middle">16</text>
<line x1="128.75" y1="291.25" x2="155.00" y2="304.50" stroke="#2e2e2e" stroke-width="1.25" />
<text transform="translate(120.75 305.30) scale(0.85 1)" text-anchor="middle">15</text>
<line x1="130.00" y1="303.00" x2="146.25" y2="310.50" stroke="#2e2e2e" stroke-width="1.25" />
<text transform="translate(55.00 359.80) scale(0.85 1)" text-anchor="middle">14</text>
<line x1="64.50" y1="357.50" x2="80.75" y2="365.00" stroke="#2e2e2e" stroke-width="1.25" />
<text transform="translate(29.50 394.80) scale(0.85 1)" text-anchor="middle">13</text>
<line x1="38.75" y1="393.00" x2="55.00" y2="400.75" stroke="#2e2e2e" stroke-width="1.25" />
<text transform="translate(78.00 471.05) scale(0.85 1)" text-anchor="middle">12</text>
<line x1="71.25" y1="464.50" x2="57.00" y2="456.25" stroke="#2e2e2e" stroke-width="1.25" />
<text transform="translate(89.50 462.30) scale(0.85 1)" text-anchor="middle">11</text>
<line x1="83.75" y1="456.25" x2="68.75" y2="448.00" stroke="#2e2e2e" stroke-width="1.25" />
<text transform="translate(135.00 466.05) scale(0.85 1)" text-anchor="middle">10</text>
<line x1="128.75" y1="460.75" x2="113.75" y2="451.25" stroke="#2e2e2e" stroke-width="1.25" />
<text transform="translate(177.50 438.05) scale(0.85 1)" text-anchor="middle">9</text>
<line x1="173.75" y1="432.50" x2="160.00" y2="423.75" stroke="#2e2e2e" stroke-width="1.25" />
<text transform="translate(190.00 393.55) scale(0.85 1)" text-anchor="middle">8</text>
<line x1="186.25" y1="387.50" x2="171.25" y2="378.75" stroke="#2e2e2e" stroke-width="1.25" />
<text transform="translate(204.50 389.80) scale(0.85 1)" text-anchor="middle">7</text>
<line x1="200.00" y1="383.00" x2="186.25" y2="375.00" stroke="#2e2e2e" stroke-width="1.25" />
<text transform="translate(220.00 376.55) scale(0.85 1)" text-anchor="middle">6</text>
<line x1="216.25" y1="370.50" x2="201.75" y2="362.50" stroke="#2e2e2e" stroke-width="1.25" />
<text transform="translate(285.00 382.85) scale(0.85 1)" text-anchor="middle">1</text>
<line x1="281.70" y1="376.30" x2="266.70" y2="368.00" stroke="#2e2e2e" stroke-width="1.25" />
<text transform="translate(328.25 383.55) scale(0.85 1)" text-anchor="middle">2</text>
<line x1="323.75" y1="377.00" x2="310.00" y2="369.50" stroke="#2e2e2e" stroke-width="1.25" />
<text transform="translate(329.50 398.05) scale(0.85 1)" text-anchor="middle">3</text>
<line x1="325.00" y1="391.25" x2="312.00" y2="383.75" stroke="#2e2e2e" stroke-width="1.25" />
<text transform="translate(330.75 409.05) scale(0.85 1)" text-anchor="middle">4</text>
<line x1="326.25" y1="401.75" x2="312.50" y2="393.75" stroke="#2e2e2e" stroke-width="1.25" />
<text transform="translate(331.25 419.80) scale(0.85 1)" text-anchor="middle">5</text>
<line x1="327.00" y1="413.00" x2="313.00" y2="405.00" stroke="#2e2e2e" stroke-width="1.25" />
<text transform="translate(328.00 347.80) scale(0.85 1)" text-anchor="middle">47</text>
<line x1="322.50" y1="340.75" x2="307.00" y2="332.00" stroke="#2e2e2e" stroke-width="1.25" />
<text transform="translate(372.50 339.05) scale(0.85 1)" text-anchor="middle">46</text>
<line x1="364.50" y1="330.50" x2="339.50" y2="317.00" stroke="#2e2e2e" stroke-width="1.25" />
<text transform="translate(394.25 326.05) scale(0.85 1)" text-anchor="middle">45</text>
<line x1="387.00" y1="317.50" x2="361.25" y2="303.75" stroke="#2e2e2e" stroke-width="1.25" />
<text transform="translate(433.25 306.05) scale(0.85 1)" text-anchor="middle">44</text>
<line x1="426.25" y1="298.00" x2="401.25" y2="284.50" stroke="#2e2e2e" stroke-width="1.25" />
<text transform="translate(467.00 287.30) scale(0.85 1)" text-anchor="middle">43</text>
<line x1="458.75" y1="278.75" x2="434.50" y2="265.00" stroke="#2e2e2e" stroke-width="1.25" />
<text transform="translate(494.50 270.55) scale(0.85 1)" text-anchor="middle">42</text>
<line x1="487.50" y1="262.50" x2="462.50" y2="248.75" stroke="#2e2e2e" stroke-width="1.25" />
<text transform="translate(530.00 254.80) scale(0.85 1)" text-anchor="middle">41</text>
<line x1="523.75" y1="247.50" x2="498.75" y2="233.75" stroke="#2e2e2e" stroke-width="1.25" />
<text transform="translate(590.50 215.55) scale(0.85 1)" text-anchor="middle">40</text>
<line x1="583.75" y1="207.50" x2="558.00" y2="193.75" stroke="#2e2e2e" stroke-width="1.25" />
<text transform="translate(657.00 223.55) scale(0.85 1)" text-anchor="middle">39</text>
<line x1="650.75" y1="215.00" x2="625.00" y2="201.25" stroke="#2e2e2e" stroke-width="1.25" />
<text transform="translate(508.75 78.05) scale(0.85 1)" text-anchor="middle">38</text>
<line x1="513.75" y1="80.00" x2="545.00" y2="96.75" stroke="#2e2e2e" stroke-width="1.25" />
<text transform="translate(453.75 121.55) scale(0.85 1)" text-anchor="middle">37</text>
<line x1="458.75" y1="123.75" x2="487.50" y2="138.00" stroke="#2e2e2e" stroke-width="1.25" />
<text transform="translate(430.00 132.30) scale(0.85 1)" text-anchor="middle">36</text>
<line x1="435.75" y1="133.75" x2="466.25" y2="150.00" stroke="#2e2e2e" stroke-width="1.25" />
<text transform="translate(385.00 151.55) scale(0.85 1)" text-anchor="middle">35</text>
<line x1="391.25" y1="153.75" x2="418.75" y2="167.50" stroke="#2e2e2e" stroke-width="1.25" />
<text transform="translate(451.25 308.55) scale(0.85 1)" text-anchor="middle">53</text>
<line x1="456.25" y1="311.25" x2="485.50" y2="326.25" stroke="#2e2e2e" stroke-width="1.25" />
<text transform="translate(571.25 356.05) scale(0.85 1)" text-anchor="middle">54</text>
<line x1="560.00" y1="348.75" x2="532.00" y2="334.50" stroke="#2e2e2e" stroke-width="1.25" />
<text transform="translate(579.50 401.55) scale(0.85 1)" text-anchor="middle">52</text>
<line x1="573.75" y1="394.50" x2="545.00" y2="380.50" stroke="#2e2e2e" stroke-width="1.25" />
<text transform="translate(498.75 393.55) scale(0.85 1)" text-anchor="middle">51</text>
<line x1="493.75" y1="385.00" x2="465.00" y2="371.75" stroke="#2e2e2e" stroke-width="1.25" />
<text transform="translate(424.25 440.55) scale(0.85 1)" text-anchor="middle">50</text>
<line x1="430.00" y1="435.00" x2="452.00" y2="423.75" stroke="#2e2e2e" stroke-width="1.25" />
<text transform="translate(382.50 404.80) scale(0.85 1)" text-anchor="middle">49</text>
<line x1="388.75" y1="398.75" x2="399.25" y2="392.50" stroke="#2e2e2e" stroke-width="1.25" />
<text transform="translate(357.50 382.30) scale(0.85 1)" text-anchor="middle">48</text>
<line x1="363.75" y1="376.25" x2="372.00" y2="372.00" stroke="#2e2e2e" stroke-width="1.25" />
<text transform="translate(330.75 509.80) scale(0.85 1)" text-anchor="middle">55</text>
<line x1="325.00" y1="503.75" x2="310.75" y2="496.25" stroke="#2e2e2e" stroke-width="1.25" />
<text transform="translate(438.30 504.55) scale(0.85 1)" text-anchor="middle">56</text>
<line x1="431.70" y1="498.30" x2="418.30" y2="491.70" stroke="#2e2e2e" stroke-width="1.25" />
<text transform="translate(450.00 573.05) scale(0.85 1)" text-anchor="middle">57</text>
<line x1="445.00" y1="566.00" x2="430.00" y2="558.30" stroke="#2e2e2e" stroke-width="1.25" />
<text transform="translate(476.70 477.55) scale(0.85 1)" text-anchor="middle">58</text>
<line x1="484.00" y1="480.70" x2="503.30" y2="490.70" stroke="#2e2e2e" stroke-width="1.25" />
<text transform="translate(72.00 571.55) scale(0.85 1)" text-anchor="middle">59</text>
<line x1="78.75" y1="570.00" x2="107.50" y2="583.75" stroke="#2e2e2e" stroke-width="1.25" />
<text transform="translate(133.30 703.55) scale(0.85 1)" text-anchor="middle">60</text>
<line x1="140.00" y1="693.30" x2="160.70" y2="684.30" stroke="#2e2e2e" stroke-width="1.25" />
<text transform="translate(144.00 721.85) scale(0.85 1)" text-anchor="middle">61</text>
<line x1="150.00" y1="712.70" x2="171.70" y2="702.30" stroke="#2e2e2e" stroke-width="1.25" />
<text transform="translate(162.30 731.85) scale(0.85 1)" text-anchor="middle">62</text>
<line x1="168.30" y1="723.30" x2="190.70" y2="712.30" stroke="#2e2e2e" stroke-width="1.25" />
<text transform="translate(184.00 745.85) scale(0.85 1)" text-anchor="middle">63</text>
<line x1="190.00" y1="737.70" x2="212.30" y2="726.70" stroke="#2e2e2e" stroke-width="1.25" />
<text transform="translate(196.70 651.85) scale(0.85 1)" text-anchor="middle">64</text>
<line x1="203.30" y1="645.00" x2="221.70" y2="635.70" stroke="#2e2e2e" stroke-width="1.25" />
<text transform="translate(307.20 636.85) scale(0.85 1)" text-anchor="middle">68</text>
<line x1="298.30" y1="636.70" x2="275.00" y2="648.30" stroke="#2e2e2e" stroke-width="1.25" />
<text transform="translate(307.20 648.25) scale(0.85 1)" text-anchor="middle">67</text>
<line x1="298.30" y1="648.30" x2="275.00" y2="659.30" stroke="#2e2e2e" stroke-width="1.25" />
<text transform="translate(307.20 659.25) scale(0.85 1)" text-anchor="middle">66</text>
<line x1="298.30" y1="659.30" x2="275.00" y2="670.00" stroke="#2e2e2e" stroke-width="1.25" />
<text transform="translate(307.20 672.45) scale(0.85 1)" text-anchor="middle">65</text>
<line x1="298.30" y1="671.70" x2="275.00" y2="683.30" stroke="#2e2e2e" stroke-width="1.25" />
<text transform="translate(434.30 649.55) scale(0.85 1)" text-anchor="middle">69</text>
<line x1="426.70" y1="641.70" x2="401.70" y2="630.00" stroke="#2e2e2e" stroke-width="1.25" />
<text transform="translate(584.25 628.05) scale(0.85 1)" text-anchor="middle">70</text>
<line x1="577.00" y1="620.00" x2="551.25" y2="606.25" stroke="#2e2e2e" stroke-width="1.25" />
<path d="M144.5,246.25 L144.5,259.5 L156.25,266.25" fill="none" stroke="#2e2e2e" stroke-width="1.25" />
</svg>
</body></html>
